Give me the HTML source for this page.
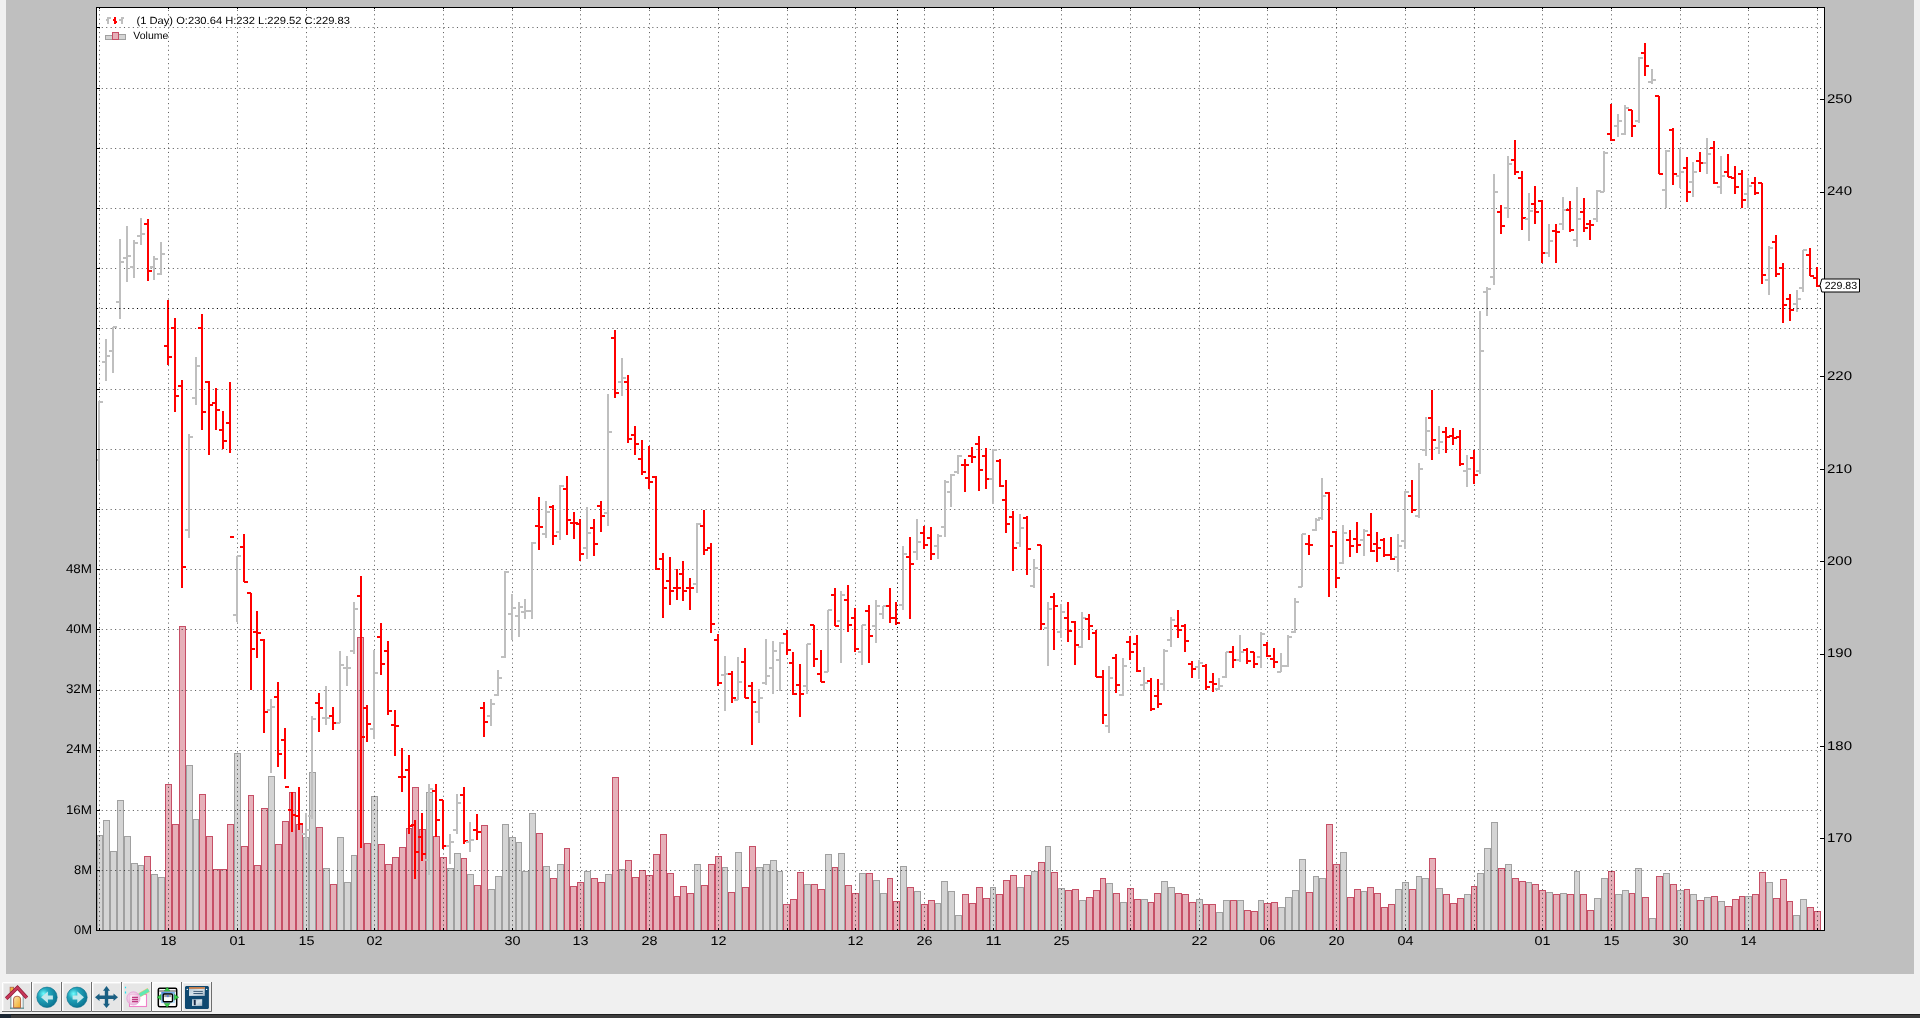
<!DOCTYPE html>
<html><head><meta charset="utf-8"><title>chart</title>
<style>
html,body{margin:0;padding:0;}
body{width:1920px;height:1018px;overflow:hidden;position:relative;background:#f0f0f0;font-family:"Liberation Sans",sans-serif;}
</style></head><body>
<svg width="1920" height="1018" viewBox="0 0 1920 1018" style="position:absolute;left:0;top:0;will-change:transform">
<rect x="6" y="0" width="1908" height="974" fill="#bfbfbf"/>
<rect x="96" y="7" width="1728" height="923" fill="#ffffff"/>
<g shape-rendering="crispEdges">
<rect x="97" y="835" width="6" height="95" fill="#d4d4d4"/>
<rect x="103" y="820" width="7" height="110" fill="#d4d4d4"/>
<rect x="110" y="851" width="7" height="79" fill="#d4d4d4"/>
<rect x="117" y="800" width="7" height="130" fill="#d4d4d4"/>
<rect x="124" y="836" width="7" height="94" fill="#d4d4d4"/>
<rect x="131" y="863" width="7" height="67" fill="#d4d4d4"/>
<rect x="138" y="865" width="6" height="65" fill="#d4d4d4"/>
<rect x="144" y="856" width="7" height="74" fill="#e6b0b9"/>
<rect x="151" y="874" width="7" height="56" fill="#d4d4d4"/>
<rect x="158" y="877" width="7" height="53" fill="#d4d4d4"/>
<rect x="165" y="784" width="7" height="146" fill="#e6b0b9"/>
<rect x="172" y="824" width="7" height="106" fill="#e6b0b9"/>
<rect x="179" y="626" width="7" height="304" fill="#e6b0b9"/>
<rect x="186" y="765" width="7" height="165" fill="#d4d4d4"/>
<rect x="193" y="819" width="6" height="111" fill="#d4d4d4"/>
<rect x="199" y="794" width="7" height="136" fill="#e6b0b9"/>
<rect x="206" y="836" width="7" height="94" fill="#e6b0b9"/>
<rect x="213" y="869" width="7" height="61" fill="#e6b0b9"/>
<rect x="220" y="869" width="7" height="61" fill="#e6b0b9"/>
<rect x="227" y="824" width="7" height="106" fill="#e6b0b9"/>
<rect x="234" y="753" width="7" height="177" fill="#d4d4d4"/>
<rect x="241" y="846" width="7" height="84" fill="#e6b0b9"/>
<rect x="248" y="795" width="6" height="135" fill="#e6b0b9"/>
<rect x="254" y="865" width="7" height="65" fill="#e6b0b9"/>
<rect x="261" y="808" width="7" height="122" fill="#e6b0b9"/>
<rect x="268" y="776" width="7" height="154" fill="#d4d4d4"/>
<rect x="275" y="844" width="7" height="86" fill="#e6b0b9"/>
<rect x="282" y="821" width="7" height="109" fill="#e6b0b9"/>
<rect x="289" y="792" width="7" height="138" fill="#e6b0b9"/>
<rect x="296" y="824" width="7" height="106" fill="#e6b0b9"/>
<rect x="303" y="837" width="6" height="93" fill="#d4d4d4"/>
<rect x="309" y="772" width="7" height="158" fill="#d4d4d4"/>
<rect x="316" y="827" width="7" height="103" fill="#e6b0b9"/>
<rect x="323" y="868" width="7" height="62" fill="#d4d4d4"/>
<rect x="330" y="884" width="7" height="46" fill="#e6b0b9"/>
<rect x="337" y="837" width="7" height="93" fill="#d4d4d4"/>
<rect x="344" y="882" width="7" height="48" fill="#d4d4d4"/>
<rect x="351" y="855" width="6" height="75" fill="#d4d4d4"/>
<rect x="357" y="637" width="7" height="293" fill="#e6b0b9"/>
<rect x="364" y="843" width="7" height="87" fill="#e6b0b9"/>
<rect x="371" y="796" width="7" height="134" fill="#d4d4d4"/>
<rect x="378" y="844" width="7" height="86" fill="#e6b0b9"/>
<rect x="385" y="864" width="7" height="66" fill="#e6b0b9"/>
<rect x="392" y="857" width="7" height="73" fill="#e6b0b9"/>
<rect x="399" y="847" width="7" height="83" fill="#e6b0b9"/>
<rect x="406" y="828" width="6" height="102" fill="#e6b0b9"/>
<rect x="412" y="787" width="7" height="143" fill="#e6b0b9"/>
<rect x="419" y="829" width="7" height="101" fill="#e6b0b9"/>
<rect x="426" y="792" width="7" height="138" fill="#d4d4d4"/>
<rect x="433" y="836" width="7" height="94" fill="#e6b0b9"/>
<rect x="440" y="857" width="7" height="73" fill="#e6b0b9"/>
<rect x="447" y="868" width="7" height="62" fill="#d4d4d4"/>
<rect x="454" y="853" width="7" height="77" fill="#d4d4d4"/>
<rect x="461" y="858" width="6" height="72" fill="#e6b0b9"/>
<rect x="467" y="874" width="7" height="56" fill="#d4d4d4"/>
<rect x="474" y="885" width="7" height="45" fill="#e6b0b9"/>
<rect x="481" y="825" width="7" height="105" fill="#e6b0b9"/>
<rect x="488" y="889" width="7" height="41" fill="#d4d4d4"/>
<rect x="495" y="876" width="7" height="54" fill="#d4d4d4"/>
<rect x="502" y="824" width="7" height="106" fill="#d4d4d4"/>
<rect x="509" y="837" width="7" height="93" fill="#d4d4d4"/>
<rect x="516" y="842" width="6" height="88" fill="#d4d4d4"/>
<rect x="522" y="871" width="7" height="59" fill="#d4d4d4"/>
<rect x="529" y="813" width="7" height="117" fill="#d4d4d4"/>
<rect x="536" y="833" width="7" height="97" fill="#e6b0b9"/>
<rect x="543" y="866" width="7" height="64" fill="#d4d4d4"/>
<rect x="550" y="878" width="7" height="52" fill="#e6b0b9"/>
<rect x="557" y="864" width="7" height="66" fill="#d4d4d4"/>
<rect x="564" y="848" width="6" height="82" fill="#e6b0b9"/>
<rect x="570" y="886" width="7" height="44" fill="#e6b0b9"/>
<rect x="577" y="882" width="7" height="48" fill="#e6b0b9"/>
<rect x="584" y="871" width="7" height="59" fill="#d4d4d4"/>
<rect x="591" y="878" width="7" height="52" fill="#e6b0b9"/>
<rect x="598" y="882" width="7" height="48" fill="#e6b0b9"/>
<rect x="605" y="874" width="7" height="56" fill="#d4d4d4"/>
<rect x="612" y="777" width="7" height="153" fill="#e6b0b9"/>
<rect x="619" y="869" width="6" height="61" fill="#d4d4d4"/>
<rect x="625" y="860" width="7" height="70" fill="#e6b0b9"/>
<rect x="632" y="877" width="7" height="53" fill="#e6b0b9"/>
<rect x="639" y="870" width="7" height="60" fill="#e6b0b9"/>
<rect x="646" y="875" width="7" height="55" fill="#e6b0b9"/>
<rect x="653" y="854" width="7" height="76" fill="#e6b0b9"/>
<rect x="660" y="834" width="7" height="96" fill="#e6b0b9"/>
<rect x="667" y="873" width="7" height="57" fill="#e6b0b9"/>
<rect x="674" y="896" width="6" height="34" fill="#e6b0b9"/>
<rect x="680" y="886" width="7" height="44" fill="#e6b0b9"/>
<rect x="687" y="893" width="7" height="37" fill="#e6b0b9"/>
<rect x="694" y="864" width="7" height="66" fill="#d4d4d4"/>
<rect x="701" y="885" width="7" height="45" fill="#e6b0b9"/>
<rect x="708" y="864" width="7" height="66" fill="#e6b0b9"/>
<rect x="715" y="856" width="7" height="74" fill="#e6b0b9"/>
<rect x="722" y="867" width="6" height="63" fill="#d4d4d4"/>
<rect x="728" y="892" width="7" height="38" fill="#e6b0b9"/>
<rect x="735" y="852" width="7" height="78" fill="#d4d4d4"/>
<rect x="742" y="887" width="7" height="43" fill="#e6b0b9"/>
<rect x="749" y="846" width="7" height="84" fill="#e6b0b9"/>
<rect x="756" y="867" width="7" height="63" fill="#d4d4d4"/>
<rect x="763" y="864" width="7" height="66" fill="#d4d4d4"/>
<rect x="770" y="860" width="7" height="70" fill="#d4d4d4"/>
<rect x="777" y="871" width="6" height="59" fill="#d4d4d4"/>
<rect x="783" y="904" width="7" height="26" fill="#e6b0b9"/>
<rect x="790" y="899" width="7" height="31" fill="#e6b0b9"/>
<rect x="797" y="872" width="7" height="58" fill="#e6b0b9"/>
<rect x="804" y="884" width="7" height="46" fill="#d4d4d4"/>
<rect x="811" y="884" width="7" height="46" fill="#e6b0b9"/>
<rect x="818" y="889" width="7" height="41" fill="#e6b0b9"/>
<rect x="825" y="854" width="7" height="76" fill="#d4d4d4"/>
<rect x="832" y="867" width="6" height="63" fill="#e6b0b9"/>
<rect x="838" y="853" width="7" height="77" fill="#d4d4d4"/>
<rect x="845" y="885" width="7" height="45" fill="#e6b0b9"/>
<rect x="852" y="893" width="7" height="37" fill="#e6b0b9"/>
<rect x="859" y="873" width="7" height="57" fill="#d4d4d4"/>
<rect x="866" y="873" width="7" height="57" fill="#e6b0b9"/>
<rect x="873" y="880" width="7" height="50" fill="#d4d4d4"/>
<rect x="880" y="893" width="7" height="37" fill="#d4d4d4"/>
<rect x="887" y="878" width="6" height="52" fill="#e6b0b9"/>
<rect x="893" y="901" width="7" height="29" fill="#e6b0b9"/>
<rect x="900" y="866" width="7" height="64" fill="#d4d4d4"/>
<rect x="907" y="887" width="7" height="43" fill="#e6b0b9"/>
<rect x="914" y="891" width="7" height="39" fill="#d4d4d4"/>
<rect x="921" y="904" width="7" height="26" fill="#e6b0b9"/>
<rect x="928" y="900" width="7" height="30" fill="#e6b0b9"/>
<rect x="935" y="903" width="6" height="27" fill="#d4d4d4"/>
<rect x="941" y="881" width="7" height="49" fill="#d4d4d4"/>
<rect x="948" y="891" width="7" height="39" fill="#d4d4d4"/>
<rect x="955" y="915" width="7" height="15" fill="#d4d4d4"/>
<rect x="962" y="894" width="7" height="36" fill="#e6b0b9"/>
<rect x="969" y="903" width="7" height="27" fill="#e6b0b9"/>
<rect x="976" y="887" width="7" height="43" fill="#e6b0b9"/>
<rect x="983" y="898" width="7" height="32" fill="#e6b0b9"/>
<rect x="990" y="887" width="6" height="43" fill="#d4d4d4"/>
<rect x="996" y="894" width="7" height="36" fill="#e6b0b9"/>
<rect x="1003" y="880" width="7" height="50" fill="#e6b0b9"/>
<rect x="1010" y="875" width="7" height="55" fill="#e6b0b9"/>
<rect x="1017" y="887" width="7" height="43" fill="#d4d4d4"/>
<rect x="1024" y="875" width="7" height="55" fill="#e6b0b9"/>
<rect x="1031" y="871" width="7" height="59" fill="#d4d4d4"/>
<rect x="1038" y="862" width="7" height="68" fill="#e6b0b9"/>
<rect x="1045" y="846" width="6" height="84" fill="#d4d4d4"/>
<rect x="1051" y="872" width="7" height="58" fill="#e6b0b9"/>
<rect x="1058" y="888" width="7" height="42" fill="#d4d4d4"/>
<rect x="1065" y="890" width="7" height="40" fill="#e6b0b9"/>
<rect x="1072" y="889" width="7" height="41" fill="#e6b0b9"/>
<rect x="1079" y="900" width="7" height="30" fill="#d4d4d4"/>
<rect x="1086" y="897" width="7" height="33" fill="#e6b0b9"/>
<rect x="1093" y="890" width="7" height="40" fill="#e6b0b9"/>
<rect x="1100" y="878" width="6" height="52" fill="#e6b0b9"/>
<rect x="1106" y="883" width="7" height="47" fill="#d4d4d4"/>
<rect x="1113" y="893" width="7" height="37" fill="#e6b0b9"/>
<rect x="1120" y="902" width="7" height="28" fill="#d4d4d4"/>
<rect x="1127" y="888" width="7" height="42" fill="#e6b0b9"/>
<rect x="1134" y="899" width="7" height="31" fill="#e6b0b9"/>
<rect x="1141" y="899" width="7" height="31" fill="#d4d4d4"/>
<rect x="1148" y="902" width="6" height="28" fill="#e6b0b9"/>
<rect x="1154" y="893" width="7" height="37" fill="#e6b0b9"/>
<rect x="1161" y="881" width="7" height="49" fill="#d4d4d4"/>
<rect x="1168" y="887" width="7" height="43" fill="#d4d4d4"/>
<rect x="1175" y="893" width="7" height="37" fill="#e6b0b9"/>
<rect x="1182" y="894" width="7" height="36" fill="#e6b0b9"/>
<rect x="1189" y="902" width="7" height="28" fill="#e6b0b9"/>
<rect x="1196" y="899" width="7" height="31" fill="#d4d4d4"/>
<rect x="1203" y="904" width="6" height="26" fill="#e6b0b9"/>
<rect x="1209" y="904" width="7" height="26" fill="#e6b0b9"/>
<rect x="1216" y="912" width="7" height="18" fill="#d4d4d4"/>
<rect x="1223" y="900" width="7" height="30" fill="#d4d4d4"/>
<rect x="1230" y="900" width="7" height="30" fill="#e6b0b9"/>
<rect x="1237" y="900" width="7" height="30" fill="#d4d4d4"/>
<rect x="1244" y="910" width="7" height="20" fill="#e6b0b9"/>
<rect x="1251" y="911" width="7" height="19" fill="#e6b0b9"/>
<rect x="1258" y="900" width="6" height="30" fill="#d4d4d4"/>
<rect x="1264" y="903" width="7" height="27" fill="#e6b0b9"/>
<rect x="1271" y="902" width="7" height="28" fill="#e6b0b9"/>
<rect x="1278" y="907" width="7" height="23" fill="#d4d4d4"/>
<rect x="1285" y="897" width="7" height="33" fill="#d4d4d4"/>
<rect x="1292" y="890" width="7" height="40" fill="#d4d4d4"/>
<rect x="1299" y="859" width="7" height="71" fill="#d4d4d4"/>
<rect x="1306" y="892" width="7" height="38" fill="#e6b0b9"/>
<rect x="1313" y="876" width="6" height="54" fill="#d4d4d4"/>
<rect x="1319" y="878" width="7" height="52" fill="#d4d4d4"/>
<rect x="1326" y="824" width="7" height="106" fill="#e6b0b9"/>
<rect x="1333" y="864" width="7" height="66" fill="#e6b0b9"/>
<rect x="1340" y="852" width="7" height="78" fill="#d4d4d4"/>
<rect x="1347" y="897" width="7" height="33" fill="#e6b0b9"/>
<rect x="1354" y="889" width="7" height="41" fill="#e6b0b9"/>
<rect x="1361" y="891" width="6" height="39" fill="#d4d4d4"/>
<rect x="1367" y="887" width="7" height="43" fill="#e6b0b9"/>
<rect x="1374" y="893" width="7" height="37" fill="#e6b0b9"/>
<rect x="1381" y="907" width="7" height="23" fill="#e6b0b9"/>
<rect x="1388" y="904" width="7" height="26" fill="#e6b0b9"/>
<rect x="1395" y="889" width="7" height="41" fill="#d4d4d4"/>
<rect x="1402" y="882" width="7" height="48" fill="#d4d4d4"/>
<rect x="1409" y="889" width="7" height="41" fill="#e6b0b9"/>
<rect x="1416" y="876" width="6" height="54" fill="#d4d4d4"/>
<rect x="1422" y="878" width="7" height="52" fill="#d4d4d4"/>
<rect x="1429" y="858" width="7" height="72" fill="#e6b0b9"/>
<rect x="1436" y="888" width="7" height="42" fill="#d4d4d4"/>
<rect x="1443" y="894" width="7" height="36" fill="#e6b0b9"/>
<rect x="1450" y="903" width="7" height="27" fill="#e6b0b9"/>
<rect x="1457" y="898" width="7" height="32" fill="#e6b0b9"/>
<rect x="1464" y="894" width="7" height="36" fill="#d4d4d4"/>
<rect x="1471" y="886" width="6" height="44" fill="#e6b0b9"/>
<rect x="1477" y="873" width="7" height="57" fill="#d4d4d4"/>
<rect x="1484" y="848" width="7" height="82" fill="#d4d4d4"/>
<rect x="1491" y="822" width="7" height="108" fill="#d4d4d4"/>
<rect x="1498" y="868" width="7" height="62" fill="#e6b0b9"/>
<rect x="1505" y="864" width="7" height="66" fill="#d4d4d4"/>
<rect x="1512" y="878" width="7" height="52" fill="#e6b0b9"/>
<rect x="1519" y="881" width="7" height="49" fill="#e6b0b9"/>
<rect x="1526" y="882" width="6" height="48" fill="#d4d4d4"/>
<rect x="1532" y="884" width="7" height="46" fill="#e6b0b9"/>
<rect x="1539" y="890" width="7" height="40" fill="#e6b0b9"/>
<rect x="1546" y="892" width="7" height="38" fill="#d4d4d4"/>
<rect x="1553" y="894" width="7" height="36" fill="#e6b0b9"/>
<rect x="1560" y="893" width="7" height="37" fill="#d4d4d4"/>
<rect x="1567" y="894" width="7" height="36" fill="#e6b0b9"/>
<rect x="1574" y="871" width="6" height="59" fill="#d4d4d4"/>
<rect x="1580" y="894" width="7" height="36" fill="#e6b0b9"/>
<rect x="1587" y="910" width="7" height="20" fill="#e6b0b9"/>
<rect x="1594" y="898" width="7" height="32" fill="#d4d4d4"/>
<rect x="1601" y="878" width="7" height="52" fill="#d4d4d4"/>
<rect x="1608" y="871" width="7" height="59" fill="#e6b0b9"/>
<rect x="1615" y="894" width="7" height="36" fill="#d4d4d4"/>
<rect x="1622" y="890" width="7" height="40" fill="#d4d4d4"/>
<rect x="1629" y="893" width="6" height="37" fill="#e6b0b9"/>
<rect x="1635" y="868" width="7" height="62" fill="#d4d4d4"/>
<rect x="1642" y="897" width="7" height="33" fill="#e6b0b9"/>
<rect x="1649" y="918" width="7" height="12" fill="#d4d4d4"/>
<rect x="1656" y="876" width="7" height="54" fill="#e6b0b9"/>
<rect x="1663" y="873" width="7" height="57" fill="#d4d4d4"/>
<rect x="1670" y="884" width="7" height="46" fill="#e6b0b9"/>
<rect x="1677" y="890" width="7" height="40" fill="#d4d4d4"/>
<rect x="1684" y="889" width="6" height="41" fill="#e6b0b9"/>
<rect x="1690" y="894" width="7" height="36" fill="#d4d4d4"/>
<rect x="1697" y="900" width="7" height="30" fill="#e6b0b9"/>
<rect x="1704" y="897" width="7" height="33" fill="#d4d4d4"/>
<rect x="1711" y="896" width="7" height="34" fill="#e6b0b9"/>
<rect x="1718" y="901" width="7" height="29" fill="#d4d4d4"/>
<rect x="1725" y="906" width="7" height="24" fill="#e6b0b9"/>
<rect x="1732" y="899" width="7" height="31" fill="#e6b0b9"/>
<rect x="1739" y="896" width="6" height="34" fill="#e6b0b9"/>
<rect x="1745" y="896" width="7" height="34" fill="#d4d4d4"/>
<rect x="1752" y="894" width="7" height="36" fill="#e6b0b9"/>
<rect x="1759" y="872" width="7" height="58" fill="#e6b0b9"/>
<rect x="1766" y="882" width="7" height="48" fill="#d4d4d4"/>
<rect x="1773" y="898" width="7" height="32" fill="#e6b0b9"/>
<rect x="1780" y="879" width="7" height="51" fill="#e6b0b9"/>
<rect x="1787" y="901" width="6" height="29" fill="#e6b0b9"/>
<rect x="1793" y="915" width="7" height="15" fill="#d4d4d4"/>
<rect x="1800" y="899" width="7" height="31" fill="#d4d4d4"/>
<rect x="1807" y="907" width="7" height="23" fill="#e6b0b9"/>
<rect x="1814" y="911" width="7" height="19" fill="#e6b0b9"/>
<path d="M97.5 930 V835.5 H102.5 V930" fill="none" stroke="#a0a0a0" stroke-width="1"/>
<path d="M103.5 930 V820.5 H109.5 V930" fill="none" stroke="#a0a0a0" stroke-width="1"/>
<path d="M110.5 930 V851.5 H116.5 V930" fill="none" stroke="#a0a0a0" stroke-width="1"/>
<path d="M117.5 930 V800.5 H123.5 V930" fill="none" stroke="#a0a0a0" stroke-width="1"/>
<path d="M124.5 930 V836.5 H130.5 V930" fill="none" stroke="#a0a0a0" stroke-width="1"/>
<path d="M131.5 930 V863.5 H137.5 V930" fill="none" stroke="#a0a0a0" stroke-width="1"/>
<path d="M138.5 930 V865.5 H143.5 V930" fill="none" stroke="#a0a0a0" stroke-width="1"/>
<path d="M144.5 930 V856.5 H150.5 V930" fill="none" stroke="#c64f66" stroke-width="1"/>
<path d="M151.5 930 V874.5 H157.5 V930" fill="none" stroke="#a0a0a0" stroke-width="1"/>
<path d="M158.5 930 V877.5 H164.5 V930" fill="none" stroke="#a0a0a0" stroke-width="1"/>
<path d="M165.5 930 V784.5 H171.5 V930" fill="none" stroke="#c64f66" stroke-width="1"/>
<path d="M172.5 930 V824.5 H178.5 V930" fill="none" stroke="#c64f66" stroke-width="1"/>
<path d="M179.5 930 V626.5 H185.5 V930" fill="none" stroke="#c64f66" stroke-width="1"/>
<path d="M186.5 930 V765.5 H192.5 V930" fill="none" stroke="#a0a0a0" stroke-width="1"/>
<path d="M193.5 930 V819.5 H198.5 V930" fill="none" stroke="#a0a0a0" stroke-width="1"/>
<path d="M199.5 930 V794.5 H205.5 V930" fill="none" stroke="#c64f66" stroke-width="1"/>
<path d="M206.5 930 V836.5 H212.5 V930" fill="none" stroke="#c64f66" stroke-width="1"/>
<path d="M213.5 930 V869.5 H219.5 V930" fill="none" stroke="#c64f66" stroke-width="1"/>
<path d="M220.5 930 V869.5 H226.5 V930" fill="none" stroke="#c64f66" stroke-width="1"/>
<path d="M227.5 930 V824.5 H233.5 V930" fill="none" stroke="#c64f66" stroke-width="1"/>
<path d="M234.5 930 V753.5 H240.5 V930" fill="none" stroke="#a0a0a0" stroke-width="1"/>
<path d="M241.5 930 V846.5 H247.5 V930" fill="none" stroke="#c64f66" stroke-width="1"/>
<path d="M248.5 930 V795.5 H253.5 V930" fill="none" stroke="#c64f66" stroke-width="1"/>
<path d="M254.5 930 V865.5 H260.5 V930" fill="none" stroke="#c64f66" stroke-width="1"/>
<path d="M261.5 930 V808.5 H267.5 V930" fill="none" stroke="#c64f66" stroke-width="1"/>
<path d="M268.5 930 V776.5 H274.5 V930" fill="none" stroke="#a0a0a0" stroke-width="1"/>
<path d="M275.5 930 V844.5 H281.5 V930" fill="none" stroke="#c64f66" stroke-width="1"/>
<path d="M282.5 930 V821.5 H288.5 V930" fill="none" stroke="#c64f66" stroke-width="1"/>
<path d="M289.5 930 V792.5 H295.5 V930" fill="none" stroke="#c64f66" stroke-width="1"/>
<path d="M296.5 930 V824.5 H302.5 V930" fill="none" stroke="#c64f66" stroke-width="1"/>
<path d="M303.5 930 V837.5 H308.5 V930" fill="none" stroke="#a0a0a0" stroke-width="1"/>
<path d="M309.5 930 V772.5 H315.5 V930" fill="none" stroke="#a0a0a0" stroke-width="1"/>
<path d="M316.5 930 V827.5 H322.5 V930" fill="none" stroke="#c64f66" stroke-width="1"/>
<path d="M323.5 930 V868.5 H329.5 V930" fill="none" stroke="#a0a0a0" stroke-width="1"/>
<path d="M330.5 930 V884.5 H336.5 V930" fill="none" stroke="#c64f66" stroke-width="1"/>
<path d="M337.5 930 V837.5 H343.5 V930" fill="none" stroke="#a0a0a0" stroke-width="1"/>
<path d="M344.5 930 V882.5 H350.5 V930" fill="none" stroke="#a0a0a0" stroke-width="1"/>
<path d="M351.5 930 V855.5 H356.5 V930" fill="none" stroke="#a0a0a0" stroke-width="1"/>
<path d="M357.5 930 V637.5 H363.5 V930" fill="none" stroke="#c64f66" stroke-width="1"/>
<path d="M364.5 930 V843.5 H370.5 V930" fill="none" stroke="#c64f66" stroke-width="1"/>
<path d="M371.5 930 V796.5 H377.5 V930" fill="none" stroke="#a0a0a0" stroke-width="1"/>
<path d="M378.5 930 V844.5 H384.5 V930" fill="none" stroke="#c64f66" stroke-width="1"/>
<path d="M385.5 930 V864.5 H391.5 V930" fill="none" stroke="#c64f66" stroke-width="1"/>
<path d="M392.5 930 V857.5 H398.5 V930" fill="none" stroke="#c64f66" stroke-width="1"/>
<path d="M399.5 930 V847.5 H405.5 V930" fill="none" stroke="#c64f66" stroke-width="1"/>
<path d="M406.5 930 V828.5 H411.5 V930" fill="none" stroke="#c64f66" stroke-width="1"/>
<path d="M412.5 930 V787.5 H418.5 V930" fill="none" stroke="#c64f66" stroke-width="1"/>
<path d="M419.5 930 V829.5 H425.5 V930" fill="none" stroke="#c64f66" stroke-width="1"/>
<path d="M426.5 930 V792.5 H432.5 V930" fill="none" stroke="#a0a0a0" stroke-width="1"/>
<path d="M433.5 930 V836.5 H439.5 V930" fill="none" stroke="#c64f66" stroke-width="1"/>
<path d="M440.5 930 V857.5 H446.5 V930" fill="none" stroke="#c64f66" stroke-width="1"/>
<path d="M447.5 930 V868.5 H453.5 V930" fill="none" stroke="#a0a0a0" stroke-width="1"/>
<path d="M454.5 930 V853.5 H460.5 V930" fill="none" stroke="#a0a0a0" stroke-width="1"/>
<path d="M461.5 930 V858.5 H466.5 V930" fill="none" stroke="#c64f66" stroke-width="1"/>
<path d="M467.5 930 V874.5 H473.5 V930" fill="none" stroke="#a0a0a0" stroke-width="1"/>
<path d="M474.5 930 V885.5 H480.5 V930" fill="none" stroke="#c64f66" stroke-width="1"/>
<path d="M481.5 930 V825.5 H487.5 V930" fill="none" stroke="#c64f66" stroke-width="1"/>
<path d="M488.5 930 V889.5 H494.5 V930" fill="none" stroke="#a0a0a0" stroke-width="1"/>
<path d="M495.5 930 V876.5 H501.5 V930" fill="none" stroke="#a0a0a0" stroke-width="1"/>
<path d="M502.5 930 V824.5 H508.5 V930" fill="none" stroke="#a0a0a0" stroke-width="1"/>
<path d="M509.5 930 V837.5 H515.5 V930" fill="none" stroke="#a0a0a0" stroke-width="1"/>
<path d="M516.5 930 V842.5 H521.5 V930" fill="none" stroke="#a0a0a0" stroke-width="1"/>
<path d="M522.5 930 V871.5 H528.5 V930" fill="none" stroke="#a0a0a0" stroke-width="1"/>
<path d="M529.5 930 V813.5 H535.5 V930" fill="none" stroke="#a0a0a0" stroke-width="1"/>
<path d="M536.5 930 V833.5 H542.5 V930" fill="none" stroke="#c64f66" stroke-width="1"/>
<path d="M543.5 930 V866.5 H549.5 V930" fill="none" stroke="#a0a0a0" stroke-width="1"/>
<path d="M550.5 930 V878.5 H556.5 V930" fill="none" stroke="#c64f66" stroke-width="1"/>
<path d="M557.5 930 V864.5 H563.5 V930" fill="none" stroke="#a0a0a0" stroke-width="1"/>
<path d="M564.5 930 V848.5 H569.5 V930" fill="none" stroke="#c64f66" stroke-width="1"/>
<path d="M570.5 930 V886.5 H576.5 V930" fill="none" stroke="#c64f66" stroke-width="1"/>
<path d="M577.5 930 V882.5 H583.5 V930" fill="none" stroke="#c64f66" stroke-width="1"/>
<path d="M584.5 930 V871.5 H590.5 V930" fill="none" stroke="#a0a0a0" stroke-width="1"/>
<path d="M591.5 930 V878.5 H597.5 V930" fill="none" stroke="#c64f66" stroke-width="1"/>
<path d="M598.5 930 V882.5 H604.5 V930" fill="none" stroke="#c64f66" stroke-width="1"/>
<path d="M605.5 930 V874.5 H611.5 V930" fill="none" stroke="#a0a0a0" stroke-width="1"/>
<path d="M612.5 930 V777.5 H618.5 V930" fill="none" stroke="#c64f66" stroke-width="1"/>
<path d="M619.5 930 V869.5 H624.5 V930" fill="none" stroke="#a0a0a0" stroke-width="1"/>
<path d="M625.5 930 V860.5 H631.5 V930" fill="none" stroke="#c64f66" stroke-width="1"/>
<path d="M632.5 930 V877.5 H638.5 V930" fill="none" stroke="#c64f66" stroke-width="1"/>
<path d="M639.5 930 V870.5 H645.5 V930" fill="none" stroke="#c64f66" stroke-width="1"/>
<path d="M646.5 930 V875.5 H652.5 V930" fill="none" stroke="#c64f66" stroke-width="1"/>
<path d="M653.5 930 V854.5 H659.5 V930" fill="none" stroke="#c64f66" stroke-width="1"/>
<path d="M660.5 930 V834.5 H666.5 V930" fill="none" stroke="#c64f66" stroke-width="1"/>
<path d="M667.5 930 V873.5 H673.5 V930" fill="none" stroke="#c64f66" stroke-width="1"/>
<path d="M674.5 930 V896.5 H679.5 V930" fill="none" stroke="#c64f66" stroke-width="1"/>
<path d="M680.5 930 V886.5 H686.5 V930" fill="none" stroke="#c64f66" stroke-width="1"/>
<path d="M687.5 930 V893.5 H693.5 V930" fill="none" stroke="#c64f66" stroke-width="1"/>
<path d="M694.5 930 V864.5 H700.5 V930" fill="none" stroke="#a0a0a0" stroke-width="1"/>
<path d="M701.5 930 V885.5 H707.5 V930" fill="none" stroke="#c64f66" stroke-width="1"/>
<path d="M708.5 930 V864.5 H714.5 V930" fill="none" stroke="#c64f66" stroke-width="1"/>
<path d="M715.5 930 V856.5 H721.5 V930" fill="none" stroke="#c64f66" stroke-width="1"/>
<path d="M722.5 930 V867.5 H727.5 V930" fill="none" stroke="#a0a0a0" stroke-width="1"/>
<path d="M728.5 930 V892.5 H734.5 V930" fill="none" stroke="#c64f66" stroke-width="1"/>
<path d="M735.5 930 V852.5 H741.5 V930" fill="none" stroke="#a0a0a0" stroke-width="1"/>
<path d="M742.5 930 V887.5 H748.5 V930" fill="none" stroke="#c64f66" stroke-width="1"/>
<path d="M749.5 930 V846.5 H755.5 V930" fill="none" stroke="#c64f66" stroke-width="1"/>
<path d="M756.5 930 V867.5 H762.5 V930" fill="none" stroke="#a0a0a0" stroke-width="1"/>
<path d="M763.5 930 V864.5 H769.5 V930" fill="none" stroke="#a0a0a0" stroke-width="1"/>
<path d="M770.5 930 V860.5 H776.5 V930" fill="none" stroke="#a0a0a0" stroke-width="1"/>
<path d="M777.5 930 V871.5 H782.5 V930" fill="none" stroke="#a0a0a0" stroke-width="1"/>
<path d="M783.5 930 V904.5 H789.5 V930" fill="none" stroke="#c64f66" stroke-width="1"/>
<path d="M790.5 930 V899.5 H796.5 V930" fill="none" stroke="#c64f66" stroke-width="1"/>
<path d="M797.5 930 V872.5 H803.5 V930" fill="none" stroke="#c64f66" stroke-width="1"/>
<path d="M804.5 930 V884.5 H810.5 V930" fill="none" stroke="#a0a0a0" stroke-width="1"/>
<path d="M811.5 930 V884.5 H817.5 V930" fill="none" stroke="#c64f66" stroke-width="1"/>
<path d="M818.5 930 V889.5 H824.5 V930" fill="none" stroke="#c64f66" stroke-width="1"/>
<path d="M825.5 930 V854.5 H831.5 V930" fill="none" stroke="#a0a0a0" stroke-width="1"/>
<path d="M832.5 930 V867.5 H837.5 V930" fill="none" stroke="#c64f66" stroke-width="1"/>
<path d="M838.5 930 V853.5 H844.5 V930" fill="none" stroke="#a0a0a0" stroke-width="1"/>
<path d="M845.5 930 V885.5 H851.5 V930" fill="none" stroke="#c64f66" stroke-width="1"/>
<path d="M852.5 930 V893.5 H858.5 V930" fill="none" stroke="#c64f66" stroke-width="1"/>
<path d="M859.5 930 V873.5 H865.5 V930" fill="none" stroke="#a0a0a0" stroke-width="1"/>
<path d="M866.5 930 V873.5 H872.5 V930" fill="none" stroke="#c64f66" stroke-width="1"/>
<path d="M873.5 930 V880.5 H879.5 V930" fill="none" stroke="#a0a0a0" stroke-width="1"/>
<path d="M880.5 930 V893.5 H886.5 V930" fill="none" stroke="#a0a0a0" stroke-width="1"/>
<path d="M887.5 930 V878.5 H892.5 V930" fill="none" stroke="#c64f66" stroke-width="1"/>
<path d="M893.5 930 V901.5 H899.5 V930" fill="none" stroke="#c64f66" stroke-width="1"/>
<path d="M900.5 930 V866.5 H906.5 V930" fill="none" stroke="#a0a0a0" stroke-width="1"/>
<path d="M907.5 930 V887.5 H913.5 V930" fill="none" stroke="#c64f66" stroke-width="1"/>
<path d="M914.5 930 V891.5 H920.5 V930" fill="none" stroke="#a0a0a0" stroke-width="1"/>
<path d="M921.5 930 V904.5 H927.5 V930" fill="none" stroke="#c64f66" stroke-width="1"/>
<path d="M928.5 930 V900.5 H934.5 V930" fill="none" stroke="#c64f66" stroke-width="1"/>
<path d="M935.5 930 V903.5 H940.5 V930" fill="none" stroke="#a0a0a0" stroke-width="1"/>
<path d="M941.5 930 V881.5 H947.5 V930" fill="none" stroke="#a0a0a0" stroke-width="1"/>
<path d="M948.5 930 V891.5 H954.5 V930" fill="none" stroke="#a0a0a0" stroke-width="1"/>
<path d="M955.5 930 V915.5 H961.5 V930" fill="none" stroke="#a0a0a0" stroke-width="1"/>
<path d="M962.5 930 V894.5 H968.5 V930" fill="none" stroke="#c64f66" stroke-width="1"/>
<path d="M969.5 930 V903.5 H975.5 V930" fill="none" stroke="#c64f66" stroke-width="1"/>
<path d="M976.5 930 V887.5 H982.5 V930" fill="none" stroke="#c64f66" stroke-width="1"/>
<path d="M983.5 930 V898.5 H989.5 V930" fill="none" stroke="#c64f66" stroke-width="1"/>
<path d="M990.5 930 V887.5 H995.5 V930" fill="none" stroke="#a0a0a0" stroke-width="1"/>
<path d="M996.5 930 V894.5 H1002.5 V930" fill="none" stroke="#c64f66" stroke-width="1"/>
<path d="M1003.5 930 V880.5 H1009.5 V930" fill="none" stroke="#c64f66" stroke-width="1"/>
<path d="M1010.5 930 V875.5 H1016.5 V930" fill="none" stroke="#c64f66" stroke-width="1"/>
<path d="M1017.5 930 V887.5 H1023.5 V930" fill="none" stroke="#a0a0a0" stroke-width="1"/>
<path d="M1024.5 930 V875.5 H1030.5 V930" fill="none" stroke="#c64f66" stroke-width="1"/>
<path d="M1031.5 930 V871.5 H1037.5 V930" fill="none" stroke="#a0a0a0" stroke-width="1"/>
<path d="M1038.5 930 V862.5 H1044.5 V930" fill="none" stroke="#c64f66" stroke-width="1"/>
<path d="M1045.5 930 V846.5 H1050.5 V930" fill="none" stroke="#a0a0a0" stroke-width="1"/>
<path d="M1051.5 930 V872.5 H1057.5 V930" fill="none" stroke="#c64f66" stroke-width="1"/>
<path d="M1058.5 930 V888.5 H1064.5 V930" fill="none" stroke="#a0a0a0" stroke-width="1"/>
<path d="M1065.5 930 V890.5 H1071.5 V930" fill="none" stroke="#c64f66" stroke-width="1"/>
<path d="M1072.5 930 V889.5 H1078.5 V930" fill="none" stroke="#c64f66" stroke-width="1"/>
<path d="M1079.5 930 V900.5 H1085.5 V930" fill="none" stroke="#a0a0a0" stroke-width="1"/>
<path d="M1086.5 930 V897.5 H1092.5 V930" fill="none" stroke="#c64f66" stroke-width="1"/>
<path d="M1093.5 930 V890.5 H1099.5 V930" fill="none" stroke="#c64f66" stroke-width="1"/>
<path d="M1100.5 930 V878.5 H1105.5 V930" fill="none" stroke="#c64f66" stroke-width="1"/>
<path d="M1106.5 930 V883.5 H1112.5 V930" fill="none" stroke="#a0a0a0" stroke-width="1"/>
<path d="M1113.5 930 V893.5 H1119.5 V930" fill="none" stroke="#c64f66" stroke-width="1"/>
<path d="M1120.5 930 V902.5 H1126.5 V930" fill="none" stroke="#a0a0a0" stroke-width="1"/>
<path d="M1127.5 930 V888.5 H1133.5 V930" fill="none" stroke="#c64f66" stroke-width="1"/>
<path d="M1134.5 930 V899.5 H1140.5 V930" fill="none" stroke="#c64f66" stroke-width="1"/>
<path d="M1141.5 930 V899.5 H1147.5 V930" fill="none" stroke="#a0a0a0" stroke-width="1"/>
<path d="M1148.5 930 V902.5 H1153.5 V930" fill="none" stroke="#c64f66" stroke-width="1"/>
<path d="M1154.5 930 V893.5 H1160.5 V930" fill="none" stroke="#c64f66" stroke-width="1"/>
<path d="M1161.5 930 V881.5 H1167.5 V930" fill="none" stroke="#a0a0a0" stroke-width="1"/>
<path d="M1168.5 930 V887.5 H1174.5 V930" fill="none" stroke="#a0a0a0" stroke-width="1"/>
<path d="M1175.5 930 V893.5 H1181.5 V930" fill="none" stroke="#c64f66" stroke-width="1"/>
<path d="M1182.5 930 V894.5 H1188.5 V930" fill="none" stroke="#c64f66" stroke-width="1"/>
<path d="M1189.5 930 V902.5 H1195.5 V930" fill="none" stroke="#c64f66" stroke-width="1"/>
<path d="M1196.5 930 V899.5 H1202.5 V930" fill="none" stroke="#a0a0a0" stroke-width="1"/>
<path d="M1203.5 930 V904.5 H1208.5 V930" fill="none" stroke="#c64f66" stroke-width="1"/>
<path d="M1209.5 930 V904.5 H1215.5 V930" fill="none" stroke="#c64f66" stroke-width="1"/>
<path d="M1216.5 930 V912.5 H1222.5 V930" fill="none" stroke="#a0a0a0" stroke-width="1"/>
<path d="M1223.5 930 V900.5 H1229.5 V930" fill="none" stroke="#a0a0a0" stroke-width="1"/>
<path d="M1230.5 930 V900.5 H1236.5 V930" fill="none" stroke="#c64f66" stroke-width="1"/>
<path d="M1237.5 930 V900.5 H1243.5 V930" fill="none" stroke="#a0a0a0" stroke-width="1"/>
<path d="M1244.5 930 V910.5 H1250.5 V930" fill="none" stroke="#c64f66" stroke-width="1"/>
<path d="M1251.5 930 V911.5 H1257.5 V930" fill="none" stroke="#c64f66" stroke-width="1"/>
<path d="M1258.5 930 V900.5 H1263.5 V930" fill="none" stroke="#a0a0a0" stroke-width="1"/>
<path d="M1264.5 930 V903.5 H1270.5 V930" fill="none" stroke="#c64f66" stroke-width="1"/>
<path d="M1271.5 930 V902.5 H1277.5 V930" fill="none" stroke="#c64f66" stroke-width="1"/>
<path d="M1278.5 930 V907.5 H1284.5 V930" fill="none" stroke="#a0a0a0" stroke-width="1"/>
<path d="M1285.5 930 V897.5 H1291.5 V930" fill="none" stroke="#a0a0a0" stroke-width="1"/>
<path d="M1292.5 930 V890.5 H1298.5 V930" fill="none" stroke="#a0a0a0" stroke-width="1"/>
<path d="M1299.5 930 V859.5 H1305.5 V930" fill="none" stroke="#a0a0a0" stroke-width="1"/>
<path d="M1306.5 930 V892.5 H1312.5 V930" fill="none" stroke="#c64f66" stroke-width="1"/>
<path d="M1313.5 930 V876.5 H1318.5 V930" fill="none" stroke="#a0a0a0" stroke-width="1"/>
<path d="M1319.5 930 V878.5 H1325.5 V930" fill="none" stroke="#a0a0a0" stroke-width="1"/>
<path d="M1326.5 930 V824.5 H1332.5 V930" fill="none" stroke="#c64f66" stroke-width="1"/>
<path d="M1333.5 930 V864.5 H1339.5 V930" fill="none" stroke="#c64f66" stroke-width="1"/>
<path d="M1340.5 930 V852.5 H1346.5 V930" fill="none" stroke="#a0a0a0" stroke-width="1"/>
<path d="M1347.5 930 V897.5 H1353.5 V930" fill="none" stroke="#c64f66" stroke-width="1"/>
<path d="M1354.5 930 V889.5 H1360.5 V930" fill="none" stroke="#c64f66" stroke-width="1"/>
<path d="M1361.5 930 V891.5 H1366.5 V930" fill="none" stroke="#a0a0a0" stroke-width="1"/>
<path d="M1367.5 930 V887.5 H1373.5 V930" fill="none" stroke="#c64f66" stroke-width="1"/>
<path d="M1374.5 930 V893.5 H1380.5 V930" fill="none" stroke="#c64f66" stroke-width="1"/>
<path d="M1381.5 930 V907.5 H1387.5 V930" fill="none" stroke="#c64f66" stroke-width="1"/>
<path d="M1388.5 930 V904.5 H1394.5 V930" fill="none" stroke="#c64f66" stroke-width="1"/>
<path d="M1395.5 930 V889.5 H1401.5 V930" fill="none" stroke="#a0a0a0" stroke-width="1"/>
<path d="M1402.5 930 V882.5 H1408.5 V930" fill="none" stroke="#a0a0a0" stroke-width="1"/>
<path d="M1409.5 930 V889.5 H1415.5 V930" fill="none" stroke="#c64f66" stroke-width="1"/>
<path d="M1416.5 930 V876.5 H1421.5 V930" fill="none" stroke="#a0a0a0" stroke-width="1"/>
<path d="M1422.5 930 V878.5 H1428.5 V930" fill="none" stroke="#a0a0a0" stroke-width="1"/>
<path d="M1429.5 930 V858.5 H1435.5 V930" fill="none" stroke="#c64f66" stroke-width="1"/>
<path d="M1436.5 930 V888.5 H1442.5 V930" fill="none" stroke="#a0a0a0" stroke-width="1"/>
<path d="M1443.5 930 V894.5 H1449.5 V930" fill="none" stroke="#c64f66" stroke-width="1"/>
<path d="M1450.5 930 V903.5 H1456.5 V930" fill="none" stroke="#c64f66" stroke-width="1"/>
<path d="M1457.5 930 V898.5 H1463.5 V930" fill="none" stroke="#c64f66" stroke-width="1"/>
<path d="M1464.5 930 V894.5 H1470.5 V930" fill="none" stroke="#a0a0a0" stroke-width="1"/>
<path d="M1471.5 930 V886.5 H1476.5 V930" fill="none" stroke="#c64f66" stroke-width="1"/>
<path d="M1477.5 930 V873.5 H1483.5 V930" fill="none" stroke="#a0a0a0" stroke-width="1"/>
<path d="M1484.5 930 V848.5 H1490.5 V930" fill="none" stroke="#a0a0a0" stroke-width="1"/>
<path d="M1491.5 930 V822.5 H1497.5 V930" fill="none" stroke="#a0a0a0" stroke-width="1"/>
<path d="M1498.5 930 V868.5 H1504.5 V930" fill="none" stroke="#c64f66" stroke-width="1"/>
<path d="M1505.5 930 V864.5 H1511.5 V930" fill="none" stroke="#a0a0a0" stroke-width="1"/>
<path d="M1512.5 930 V878.5 H1518.5 V930" fill="none" stroke="#c64f66" stroke-width="1"/>
<path d="M1519.5 930 V881.5 H1525.5 V930" fill="none" stroke="#c64f66" stroke-width="1"/>
<path d="M1526.5 930 V882.5 H1531.5 V930" fill="none" stroke="#a0a0a0" stroke-width="1"/>
<path d="M1532.5 930 V884.5 H1538.5 V930" fill="none" stroke="#c64f66" stroke-width="1"/>
<path d="M1539.5 930 V890.5 H1545.5 V930" fill="none" stroke="#c64f66" stroke-width="1"/>
<path d="M1546.5 930 V892.5 H1552.5 V930" fill="none" stroke="#a0a0a0" stroke-width="1"/>
<path d="M1553.5 930 V894.5 H1559.5 V930" fill="none" stroke="#c64f66" stroke-width="1"/>
<path d="M1560.5 930 V893.5 H1566.5 V930" fill="none" stroke="#a0a0a0" stroke-width="1"/>
<path d="M1567.5 930 V894.5 H1573.5 V930" fill="none" stroke="#c64f66" stroke-width="1"/>
<path d="M1574.5 930 V871.5 H1579.5 V930" fill="none" stroke="#a0a0a0" stroke-width="1"/>
<path d="M1580.5 930 V894.5 H1586.5 V930" fill="none" stroke="#c64f66" stroke-width="1"/>
<path d="M1587.5 930 V910.5 H1593.5 V930" fill="none" stroke="#c64f66" stroke-width="1"/>
<path d="M1594.5 930 V898.5 H1600.5 V930" fill="none" stroke="#a0a0a0" stroke-width="1"/>
<path d="M1601.5 930 V878.5 H1607.5 V930" fill="none" stroke="#a0a0a0" stroke-width="1"/>
<path d="M1608.5 930 V871.5 H1614.5 V930" fill="none" stroke="#c64f66" stroke-width="1"/>
<path d="M1615.5 930 V894.5 H1621.5 V930" fill="none" stroke="#a0a0a0" stroke-width="1"/>
<path d="M1622.5 930 V890.5 H1628.5 V930" fill="none" stroke="#a0a0a0" stroke-width="1"/>
<path d="M1629.5 930 V893.5 H1634.5 V930" fill="none" stroke="#c64f66" stroke-width="1"/>
<path d="M1635.5 930 V868.5 H1641.5 V930" fill="none" stroke="#a0a0a0" stroke-width="1"/>
<path d="M1642.5 930 V897.5 H1648.5 V930" fill="none" stroke="#c64f66" stroke-width="1"/>
<path d="M1649.5 930 V918.5 H1655.5 V930" fill="none" stroke="#a0a0a0" stroke-width="1"/>
<path d="M1656.5 930 V876.5 H1662.5 V930" fill="none" stroke="#c64f66" stroke-width="1"/>
<path d="M1663.5 930 V873.5 H1669.5 V930" fill="none" stroke="#a0a0a0" stroke-width="1"/>
<path d="M1670.5 930 V884.5 H1676.5 V930" fill="none" stroke="#c64f66" stroke-width="1"/>
<path d="M1677.5 930 V890.5 H1683.5 V930" fill="none" stroke="#a0a0a0" stroke-width="1"/>
<path d="M1684.5 930 V889.5 H1689.5 V930" fill="none" stroke="#c64f66" stroke-width="1"/>
<path d="M1690.5 930 V894.5 H1696.5 V930" fill="none" stroke="#a0a0a0" stroke-width="1"/>
<path d="M1697.5 930 V900.5 H1703.5 V930" fill="none" stroke="#c64f66" stroke-width="1"/>
<path d="M1704.5 930 V897.5 H1710.5 V930" fill="none" stroke="#a0a0a0" stroke-width="1"/>
<path d="M1711.5 930 V896.5 H1717.5 V930" fill="none" stroke="#c64f66" stroke-width="1"/>
<path d="M1718.5 930 V901.5 H1724.5 V930" fill="none" stroke="#a0a0a0" stroke-width="1"/>
<path d="M1725.5 930 V906.5 H1731.5 V930" fill="none" stroke="#c64f66" stroke-width="1"/>
<path d="M1732.5 930 V899.5 H1738.5 V930" fill="none" stroke="#c64f66" stroke-width="1"/>
<path d="M1739.5 930 V896.5 H1744.5 V930" fill="none" stroke="#c64f66" stroke-width="1"/>
<path d="M1745.5 930 V896.5 H1751.5 V930" fill="none" stroke="#a0a0a0" stroke-width="1"/>
<path d="M1752.5 930 V894.5 H1758.5 V930" fill="none" stroke="#c64f66" stroke-width="1"/>
<path d="M1759.5 930 V872.5 H1765.5 V930" fill="none" stroke="#c64f66" stroke-width="1"/>
<path d="M1766.5 930 V882.5 H1772.5 V930" fill="none" stroke="#a0a0a0" stroke-width="1"/>
<path d="M1773.5 930 V898.5 H1779.5 V930" fill="none" stroke="#c64f66" stroke-width="1"/>
<path d="M1780.5 930 V879.5 H1786.5 V930" fill="none" stroke="#c64f66" stroke-width="1"/>
<path d="M1787.5 930 V901.5 H1792.5 V930" fill="none" stroke="#c64f66" stroke-width="1"/>
<path d="M1793.5 930 V915.5 H1799.5 V930" fill="none" stroke="#a0a0a0" stroke-width="1"/>
<path d="M1800.5 930 V899.5 H1806.5 V930" fill="none" stroke="#a0a0a0" stroke-width="1"/>
<path d="M1807.5 930 V907.5 H1813.5 V930" fill="none" stroke="#c64f66" stroke-width="1"/>
<path d="M1814.5 930 V911.5 H1820.5 V930" fill="none" stroke="#c64f66" stroke-width="1"/>
</g>
<g stroke="#000" stroke-opacity="0.62" stroke-width="1" stroke-dasharray="1.1 3.34" fill="none">
<path d="M99.5 930 V8"/>
<path d="M168.5 930 V8"/>
<path d="M237.5 930 V8"/>
<path d="M306.5 930 V8"/>
<path d="M374.5 930 V8"/>
<path d="M443.5 930 V8"/>
<path d="M512.5 930 V8"/>
<path d="M580.5 930 V8"/>
<path d="M649.5 930 V8"/>
<path d="M718.5 930 V8"/>
<path d="M787.5 930 V8"/>
<path d="M855.5 930 V8"/>
<path d="M924.5 930 V8"/>
<path d="M993.5 930 V8"/>
<path d="M1061.5 930 V8"/>
<path d="M1130.5 930 V8"/>
<path d="M1199.5 930 V8"/>
<path d="M1267.5 930 V8"/>
<path d="M1336.5 930 V8"/>
<path d="M1405.5 930 V8"/>
<path d="M1474.5 930 V8"/>
<path d="M1542.5 930 V8"/>
<path d="M1611.5 930 V8"/>
<path d="M1680.5 930 V8"/>
<path d="M1748.5 930 V8"/>
<path d="M1817.5 930 V8"/>
<path d="M97.3 870.5 H1824"/>
<path d="M97.3 810.5 H1824"/>
<path d="M97.3 750.5 H1824"/>
<path d="M97.3 690.5 H1824"/>
<path d="M97.3 629.5 H1824"/>
<path d="M97.3 569.5 H1824"/>
<path d="M97.3 509.5 H1824"/>
<path d="M97.3 449.5 H1824"/>
<path d="M97.3 389.5 H1824"/>
<path d="M97.3 328.5 H1824"/>
<path d="M97.3 268.5 H1824"/>
<path d="M97.3 208.5 H1824"/>
<path d="M97.3 148.5 H1824"/>
<path d="M97.3 88.5 H1824"/>
<path d="M97.3 27.5 H1824"/>
</g>
<g shape-rendering="crispEdges" fill="none" stroke-width="2">
<path d="M99 401 V480 M95 460 H99 M99 402 H103" stroke="#bfbfbf"/>
<path d="M106 339 V381 M102 362 H106 M106 356 H110" stroke="#bfbfbf"/>
<path d="M113 327 V373 M109 351 H113 M113 327 H117" stroke="#bfbfbf"/>
<path d="M120 239 V319 M116 302 H120 M120 262 H124" stroke="#bfbfbf"/>
<path d="M127 226 V282 M123 258 H127 M127 256 H131" stroke="#bfbfbf"/>
<path d="M134 240 V278 M130 267 H134 M134 243 H138" stroke="#bfbfbf"/>
<path d="M141 218 V245 M137 236 H141 M141 234 H145" stroke="#bfbfbf"/>
<path d="M148 219 V281 M144 224 H148 M148 271 H152" stroke="#ff0000"/>
<path d="M154 256 V280 M150 267 H154 M154 259 H158" stroke="#bfbfbf"/>
<path d="M161 242 V275 M157 274 H161 M161 254 H165" stroke="#bfbfbf"/>
<path d="M168 300 V365 M164 346 H168 M168 357 H172" stroke="#ff0000"/>
<path d="M175 318 V412 M171 328 H175 M175 396 H179" stroke="#ff0000"/>
<path d="M182 380 V588 M178 386 H182 M182 567 H186" stroke="#ff0000"/>
<path d="M189 434 V538 M185 530 H189 M189 437 H193" stroke="#bfbfbf"/>
<path d="M196 357 V405 M192 398 H196 M196 366 H200" stroke="#bfbfbf"/>
<path d="M202 314 V430 M198 328 H202 M202 412 H206" stroke="#ff0000"/>
<path d="M209 381 V455 M205 382 H209 M209 405 H213" stroke="#ff0000"/>
<path d="M216 388 V430 M212 403 H216 M216 410 H220" stroke="#ff0000"/>
<path d="M223 411 V449 M219 430 H223 M223 441 H227" stroke="#ff0000"/>
<path d="M230 382 V453 M226 423 H230 M230 537 H234" stroke="#ff0000"/>
<path d="M237 556 V622 M233 615 H237 M237 556 H241" stroke="#bfbfbf"/>
<path d="M244 534 V582 M240 547 H244 M244 582 H248" stroke="#ff0000"/>
<path d="M251 593 V690 M247 593 H251 M251 649 H255" stroke="#ff0000"/>
<path d="M257 611 V658 M253 632 H257 M257 633 H261" stroke="#ff0000"/>
<path d="M264 639 V733 M260 640 H264 M264 712 H268" stroke="#ff0000"/>
<path d="M271 699 V773 M267 710 H271 M271 707 H275" stroke="#bfbfbf"/>
<path d="M278 682 V767 M274 697 H278 M278 754 H282" stroke="#ff0000"/>
<path d="M285 728 V779 M281 740 H285 M285 787 H289" stroke="#ff0000"/>
<path d="M292 792 V832 M288 810 H292 M292 815 H296" stroke="#ff0000"/>
<path d="M299 787 V830 M295 816 H299 M299 824 H303" stroke="#ff0000"/>
<path d="M306 813 V850 M302 834 H306 M306 830 H310" stroke="#bfbfbf"/>
<path d="M312 716 V819 M308 816 H312 M312 719 H316" stroke="#bfbfbf"/>
<path d="M319 693 V732 M315 703 H319 M319 708 H323" stroke="#ff0000"/>
<path d="M326 686 V725 M322 718 H326 M326 718 H330" stroke="#bfbfbf"/>
<path d="M333 707 V730 M329 716 H333 M333 723 H337" stroke="#ff0000"/>
<path d="M340 651 V723 M336 723 H340 M340 665 H344" stroke="#bfbfbf"/>
<path d="M347 656 V686 M343 668 H347 M347 668 H351" stroke="#bfbfbf"/>
<path d="M354 602 V654 M350 651 H354 M354 609 H358" stroke="#bfbfbf"/>
<path d="M361 576 V848 M357 596 H361 M361 737 H365" stroke="#ff0000"/>
<path d="M367 705 V742 M363 708 H367 M367 724 H371" stroke="#ff0000"/>
<path d="M374 650 V739 M370 729 H374 M374 673 H378" stroke="#bfbfbf"/>
<path d="M381 623 V675 M377 637 H381 M381 664 H385" stroke="#ff0000"/>
<path d="M388 641 V715 M384 651 H388 M388 711 H392" stroke="#ff0000"/>
<path d="M395 710 V756 M391 725 H395 M395 726 H399" stroke="#ff0000"/>
<path d="M402 748 V792 M398 777 H402 M402 777 H406" stroke="#ff0000"/>
<path d="M409 755 V834 M405 770 H409 M409 826 H413" stroke="#ff0000"/>
<path d="M415 820 V879 M411 825 H415 M415 852 H419" stroke="#ff0000"/>
<path d="M422 813 V861 M418 837 H422 M422 854 H426" stroke="#ff0000"/>
<path d="M429 784 V875 M425 860 H429 M429 789 H433" stroke="#bfbfbf"/>
<path d="M436 784 V837 M432 791 H436 M436 820 H440" stroke="#ff0000"/>
<path d="M443 800 V849 M439 800 H443 M443 846 H447" stroke="#ff0000"/>
<path d="M450 834 V864 M446 846 H450 M450 842 H454" stroke="#bfbfbf"/>
<path d="M457 794 V834 M453 830 H457 M457 803 H461" stroke="#bfbfbf"/>
<path d="M464 787 V844 M460 795 H464 M464 841 H468" stroke="#ff0000"/>
<path d="M470 822 V852 M466 842 H470 M470 840 H474" stroke="#bfbfbf"/>
<path d="M477 814 V840 M473 830 H477 M477 832 H481" stroke="#ff0000"/>
<path d="M484 702 V737 M480 708 H484 M484 722 H488" stroke="#ff0000"/>
<path d="M491 699 V726 M487 716 H491 M491 704 H495" stroke="#bfbfbf"/>
<path d="M498 670 V696 M494 695 H498 M498 678 H502" stroke="#bfbfbf"/>
<path d="M505 571 V658 M501 657 H505 M505 572 H509" stroke="#bfbfbf"/>
<path d="M512 594 V640 M508 614 H512 M512 608 H516" stroke="#bfbfbf"/>
<path d="M519 602 V637 M515 616 H519 M519 607 H523" stroke="#bfbfbf"/>
<path d="M525 599 V619 M521 612 H525 M525 611 H529" stroke="#bfbfbf"/>
<path d="M532 542 V619 M528 611 H532 M532 543 H536" stroke="#bfbfbf"/>
<path d="M539 497 V550 M535 526 H539 M539 527 H543" stroke="#ff0000"/>
<path d="M546 501 V538 M542 534 H546 M546 512 H550" stroke="#bfbfbf"/>
<path d="M553 505 V545 M549 507 H553 M553 536 H557" stroke="#ff0000"/>
<path d="M560 485 V540 M556 532 H560 M560 486 H564" stroke="#bfbfbf"/>
<path d="M567 476 V535 M563 489 H567 M567 520 H571" stroke="#ff0000"/>
<path d="M574 512 V539 M570 523 H574 M574 523 H578" stroke="#ff0000"/>
<path d="M580 519 V561 M576 524 H580 M580 554 H584" stroke="#ff0000"/>
<path d="M587 507 V559 M583 548 H587 M587 533 H591" stroke="#bfbfbf"/>
<path d="M594 519 V556 M590 528 H594 M594 544 H598" stroke="#ff0000"/>
<path d="M601 501 V532 M597 506 H601 M601 516 H605" stroke="#ff0000"/>
<path d="M608 394 V526 M604 513 H608 M608 432 H612" stroke="#bfbfbf"/>
<path d="M615 330 V398 M611 338 H615 M615 393 H619" stroke="#ff0000"/>
<path d="M622 358 V396 M618 382 H622 M622 378 H626" stroke="#bfbfbf"/>
<path d="M628 375 V443 M624 382 H628 M628 439 H632" stroke="#ff0000"/>
<path d="M635 426 V455 M631 435 H635 M635 444 H639" stroke="#ff0000"/>
<path d="M642 440 V475 M638 459 H642 M642 472 H646" stroke="#ff0000"/>
<path d="M649 446 V489 M645 478 H649 M649 482 H653" stroke="#ff0000"/>
<path d="M656 476 V570 M652 477 H656 M656 569 H660" stroke="#ff0000"/>
<path d="M663 553 V618 M659 559 H663 M663 588 H667" stroke="#ff0000"/>
<path d="M670 557 V605 M666 581 H670 M670 591 H674" stroke="#ff0000"/>
<path d="M677 569 V600 M673 588 H677 M677 588 H681" stroke="#ff0000"/>
<path d="M683 561 V601 M679 574 H683 M683 591 H687" stroke="#ff0000"/>
<path d="M690 578 V610 M686 588 H690 M690 588 H694" stroke="#ff0000"/>
<path d="M697 523 V593 M693 584 H697 M697 524 H701" stroke="#bfbfbf"/>
<path d="M704 510 V555 M700 526 H704 M704 550 H708" stroke="#ff0000"/>
<path d="M711 543 V633 M707 548 H711 M711 624 H715" stroke="#ff0000"/>
<path d="M718 634 V686 M714 640 H718 M718 683 H722" stroke="#ff0000"/>
<path d="M725 656 V711 M721 675 H725 M725 674 H729" stroke="#bfbfbf"/>
<path d="M732 671 V703 M728 674 H732 M732 698 H736" stroke="#ff0000"/>
<path d="M738 657 V700 M734 700 H738 M738 682 H742" stroke="#bfbfbf"/>
<path d="M745 648 V698 M741 662 H745 M745 698 H749" stroke="#ff0000"/>
<path d="M752 682 V745 M748 686 H752 M752 702 H756" stroke="#ff0000"/>
<path d="M759 689 V723 M755 712 H759 M759 698 H763" stroke="#bfbfbf"/>
<path d="M766 639 V685 M762 683 H766 M766 676 H770" stroke="#bfbfbf"/>
<path d="M773 641 V694 M769 668 H773 M773 651 H777" stroke="#bfbfbf"/>
<path d="M780 642 V691 M776 660 H780 M780 643 H784" stroke="#bfbfbf"/>
<path d="M787 630 V655 M783 634 H787 M787 650 H791" stroke="#ff0000"/>
<path d="M793 652 V695 M789 663 H793 M793 694 H797" stroke="#ff0000"/>
<path d="M800 664 V717 M796 685 H800 M800 694 H804" stroke="#ff0000"/>
<path d="M807 644 V694 M803 686 H807 M807 644 H811" stroke="#bfbfbf"/>
<path d="M814 625 V667 M810 625 H814 M814 659 H818" stroke="#ff0000"/>
<path d="M821 650 V682 M817 674 H821 M821 682 H825" stroke="#ff0000"/>
<path d="M828 610 V672 M824 672 H828 M828 610 H832" stroke="#bfbfbf"/>
<path d="M835 588 V626 M831 595 H835 M835 626 H839" stroke="#ff0000"/>
<path d="M841 591 V663 M837 621 H841 M841 595 H845" stroke="#bfbfbf"/>
<path d="M848 585 V632 M844 600 H848 M848 625 H852" stroke="#ff0000"/>
<path d="M855 608 V652 M851 618 H855 M855 649 H859" stroke="#ff0000"/>
<path d="M862 625 V665 M858 652 H862 M862 625 H866" stroke="#bfbfbf"/>
<path d="M869 605 V663 M865 611 H869 M869 636 H873" stroke="#ff0000"/>
<path d="M876 600 V643 M872 626 H876 M876 606 H880" stroke="#bfbfbf"/>
<path d="M883 606 V619 M879 614 H883 M883 606 H887" stroke="#bfbfbf"/>
<path d="M890 588 V623 M886 606 H890 M890 618 H894" stroke="#ff0000"/>
<path d="M896 602 V625 M892 618 H896 M896 623 H900" stroke="#ff0000"/>
<path d="M903 546 V610 M899 605 H903 M903 554 H907" stroke="#bfbfbf"/>
<path d="M910 537 V619 M906 557 H910 M910 564 H914" stroke="#ff0000"/>
<path d="M917 519 V560 M913 552 H917 M917 542 H921" stroke="#bfbfbf"/>
<path d="M924 526 V549 M920 533 H924 M924 545 H928" stroke="#ff0000"/>
<path d="M931 527 V560 M927 538 H931 M931 554 H935" stroke="#ff0000"/>
<path d="M938 534 V559 M934 546 H938 M938 536 H942" stroke="#bfbfbf"/>
<path d="M945 480 V537 M941 527 H945 M945 482 H949" stroke="#bfbfbf"/>
<path d="M951 474 V507 M947 492 H951 M951 475 H955" stroke="#bfbfbf"/>
<path d="M958 455 V474 M954 472 H958 M958 456 H962" stroke="#bfbfbf"/>
<path d="M965 459 V492 M961 465 H965 M965 465 H969" stroke="#ff0000"/>
<path d="M972 447 V463 M968 456 H972 M972 457 H976" stroke="#ff0000"/>
<path d="M979 436 V491 M975 444 H979 M979 470 H983" stroke="#ff0000"/>
<path d="M986 448 V489 M982 456 H986 M986 479 H990" stroke="#ff0000"/>
<path d="M993 449 V504 M989 479 H993 M993 450 H997" stroke="#bfbfbf"/>
<path d="M1000 459 V487 M996 461 H1000 M1000 486 H1004" stroke="#ff0000"/>
<path d="M1006 480 V533 M1002 500 H1006 M1006 524 H1010" stroke="#ff0000"/>
<path d="M1013 511 V571 M1009 517 H1013 M1013 548 H1017" stroke="#ff0000"/>
<path d="M1020 514 V547 M1016 543 H1020 M1020 528 H1024" stroke="#bfbfbf"/>
<path d="M1027 516 V575 M1023 518 H1027 M1027 549 H1031" stroke="#ff0000"/>
<path d="M1034 559 V588 M1030 586 H1034 M1034 568 H1038" stroke="#bfbfbf"/>
<path d="M1041 545 V630 M1037 545 H1041 M1041 624 H1045" stroke="#ff0000"/>
<path d="M1048 602 V666 M1044 628 H1048 M1048 609 H1052" stroke="#bfbfbf"/>
<path d="M1054 593 V650 M1050 597 H1054 M1054 606 H1058" stroke="#ff0000"/>
<path d="M1061 604 V638 M1057 632 H1061 M1061 612 H1065" stroke="#bfbfbf"/>
<path d="M1068 602 V642 M1064 618 H1068 M1068 631 H1072" stroke="#ff0000"/>
<path d="M1075 621 V665 M1071 622 H1075 M1075 645 H1079" stroke="#ff0000"/>
<path d="M1082 612 V648 M1078 647 H1082 M1082 618 H1086" stroke="#bfbfbf"/>
<path d="M1089 614 V640 M1085 619 H1089 M1089 626 H1093" stroke="#ff0000"/>
<path d="M1096 630 V677 M1092 633 H1096 M1096 677 H1100" stroke="#ff0000"/>
<path d="M1103 670 V724 M1099 677 H1103 M1103 715 H1107" stroke="#ff0000"/>
<path d="M1109 666 V733 M1105 726 H1109 M1109 678 H1113" stroke="#bfbfbf"/>
<path d="M1116 654 V693 M1112 658 H1116 M1116 685 H1120" stroke="#ff0000"/>
<path d="M1123 658 V696 M1119 695 H1123 M1123 666 H1127" stroke="#bfbfbf"/>
<path d="M1130 636 V660 M1126 642 H1130 M1130 652 H1134" stroke="#ff0000"/>
<path d="M1137 635 V672 M1133 644 H1137 M1137 671 H1141" stroke="#ff0000"/>
<path d="M1144 667 V691 M1140 685 H1144 M1144 683 H1148" stroke="#bfbfbf"/>
<path d="M1151 678 V711 M1147 681 H1151 M1151 709 H1155" stroke="#ff0000"/>
<path d="M1158 679 V708 M1154 696 H1158 M1158 704 H1162" stroke="#ff0000"/>
<path d="M1164 649 V691 M1160 684 H1164 M1164 651 H1168" stroke="#bfbfbf"/>
<path d="M1171 617 V647 M1167 640 H1171 M1171 620 H1175" stroke="#bfbfbf"/>
<path d="M1178 610 V638 M1174 626 H1178 M1178 630 H1182" stroke="#ff0000"/>
<path d="M1185 624 V652 M1181 626 H1185 M1185 641 H1189" stroke="#ff0000"/>
<path d="M1192 661 V678 M1188 664 H1192 M1192 669 H1196" stroke="#ff0000"/>
<path d="M1199 660 V679 M1195 667 H1199 M1199 663 H1203" stroke="#bfbfbf"/>
<path d="M1206 664 V690 M1202 666 H1206 M1206 687 H1210" stroke="#ff0000"/>
<path d="M1213 673 V692 M1209 682 H1213 M1213 684 H1217" stroke="#ff0000"/>
<path d="M1219 678 V690 M1215 689 H1219 M1219 686 H1223" stroke="#bfbfbf"/>
<path d="M1226 652 V678 M1222 677 H1226 M1226 652 H1230" stroke="#bfbfbf"/>
<path d="M1233 646 V668 M1229 652 H1233 M1233 660 H1237" stroke="#ff0000"/>
<path d="M1240 635 V662 M1236 660 H1240 M1240 652 H1244" stroke="#bfbfbf"/>
<path d="M1247 648 V664 M1243 650 H1247 M1247 661 H1251" stroke="#ff0000"/>
<path d="M1254 652 V668 M1250 652 H1254 M1254 664 H1258" stroke="#ff0000"/>
<path d="M1261 632 V668 M1257 657 H1261 M1261 634 H1265" stroke="#bfbfbf"/>
<path d="M1267 642 V657 M1263 645 H1267 M1267 656 H1271" stroke="#ff0000"/>
<path d="M1274 648 V668 M1270 659 H1274 M1274 662 H1278" stroke="#ff0000"/>
<path d="M1281 653 V672 M1277 672 H1281 M1281 666 H1285" stroke="#bfbfbf"/>
<path d="M1288 635 V667 M1284 666 H1288 M1288 637 H1292" stroke="#bfbfbf"/>
<path d="M1295 598 V633 M1291 632 H1295 M1295 602 H1299" stroke="#bfbfbf"/>
<path d="M1302 534 V587 M1298 587 H1302 M1302 534 H1306" stroke="#bfbfbf"/>
<path d="M1309 535 V555 M1305 544 H1309 M1309 545 H1313" stroke="#ff0000"/>
<path d="M1316 518 V531 M1312 530 H1316 M1316 520 H1320" stroke="#bfbfbf"/>
<path d="M1322 478 V520 M1318 518 H1322 M1322 496 H1326" stroke="#bfbfbf"/>
<path d="M1329 492 V597 M1325 493 H1329 M1329 546 H1333" stroke="#ff0000"/>
<path d="M1336 531 V588 M1332 532 H1336 M1336 578 H1340" stroke="#ff0000"/>
<path d="M1343 525 V564 M1339 563 H1343 M1343 533 H1347" stroke="#bfbfbf"/>
<path d="M1350 530 V557 M1346 540 H1350 M1350 546 H1354" stroke="#ff0000"/>
<path d="M1357 522 V553 M1353 539 H1357 M1357 545 H1361" stroke="#ff0000"/>
<path d="M1364 529 V556 M1360 540 H1364 M1364 531 H1368" stroke="#bfbfbf"/>
<path d="M1371 513 V552 M1367 535 H1371 M1371 551 H1375" stroke="#ff0000"/>
<path d="M1377 532 V562 M1373 544 H1377 M1377 548 H1381" stroke="#ff0000"/>
<path d="M1384 538 V557 M1380 540 H1384 M1384 555 H1388" stroke="#ff0000"/>
<path d="M1391 537 V560 M1387 555 H1391 M1391 559 H1395" stroke="#ff0000"/>
<path d="M1398 534 V572 M1394 557 H1398 M1398 546 H1402" stroke="#bfbfbf"/>
<path d="M1405 491 V549 M1401 541 H1405 M1405 492 H1409" stroke="#bfbfbf"/>
<path d="M1412 480 V513 M1408 496 H1412 M1412 510 H1416" stroke="#ff0000"/>
<path d="M1419 463 V518 M1415 516 H1419 M1419 469 H1423" stroke="#bfbfbf"/>
<path d="M1426 417 V456 M1422 450 H1426 M1426 431 H1430" stroke="#bfbfbf"/>
<path d="M1432 390 V460 M1428 418 H1432 M1432 440 H1436" stroke="#ff0000"/>
<path d="M1439 426 V454 M1435 448 H1439 M1439 442 H1443" stroke="#bfbfbf"/>
<path d="M1446 427 V453 M1442 432 H1446 M1446 437 H1450" stroke="#ff0000"/>
<path d="M1453 428 V445 M1449 436 H1453 M1453 438 H1457" stroke="#ff0000"/>
<path d="M1460 430 V466 M1456 437 H1460 M1460 464 H1464" stroke="#ff0000"/>
<path d="M1467 455 V487 M1463 471 H1467 M1467 469 H1471" stroke="#bfbfbf"/>
<path d="M1474 450 V484 M1470 458 H1474 M1474 475 H1478" stroke="#ff0000"/>
<path d="M1480 311 V474 M1476 471 H1480 M1480 351 H1484" stroke="#bfbfbf"/>
<path d="M1487 287 V316 M1483 292 H1487 M1487 289 H1491" stroke="#bfbfbf"/>
<path d="M1494 174 V285 M1490 277 H1494 M1494 192 H1498" stroke="#bfbfbf"/>
<path d="M1501 205 V234 M1497 212 H1501 M1501 226 H1505" stroke="#ff0000"/>
<path d="M1508 156 V218 M1504 208 H1508 M1508 164 H1512" stroke="#bfbfbf"/>
<path d="M1515 140 V175 M1511 160 H1515 M1515 172 H1519" stroke="#ff0000"/>
<path d="M1522 171 V230 M1518 178 H1522 M1522 218 H1526" stroke="#ff0000"/>
<path d="M1529 193 V241 M1525 219 H1529 M1529 211 H1533" stroke="#bfbfbf"/>
<path d="M1535 186 V224 M1531 204 H1535 M1535 212 H1539" stroke="#ff0000"/>
<path d="M1542 200 V263 M1538 201 H1542 M1542 253 H1546" stroke="#ff0000"/>
<path d="M1549 224 V257 M1545 253 H1549 M1549 241 H1553" stroke="#bfbfbf"/>
<path d="M1556 224 V263 M1552 231 H1556 M1556 232 H1560" stroke="#ff0000"/>
<path d="M1563 197 V230 M1559 224 H1563 M1563 210 H1567" stroke="#bfbfbf"/>
<path d="M1570 201 V232 M1566 210 H1570 M1570 230 H1574" stroke="#ff0000"/>
<path d="M1577 187 V247 M1573 240 H1577 M1577 219 H1581" stroke="#bfbfbf"/>
<path d="M1584 198 V232 M1580 212 H1584 M1584 228 H1588" stroke="#ff0000"/>
<path d="M1590 220 V240 M1586 224 H1590 M1590 225 H1594" stroke="#ff0000"/>
<path d="M1597 190 V222 M1593 219 H1597 M1597 191 H1601" stroke="#bfbfbf"/>
<path d="M1604 151 V192 M1600 192 H1604 M1604 153 H1608" stroke="#bfbfbf"/>
<path d="M1611 104 V141 M1607 134 H1611 M1611 140 H1615" stroke="#ff0000"/>
<path d="M1618 114 V137 M1614 126 H1618 M1618 121 H1622" stroke="#bfbfbf"/>
<path d="M1625 105 V135 M1621 134 H1625 M1625 108 H1629" stroke="#bfbfbf"/>
<path d="M1632 110 V137 M1628 110 H1632 M1632 126 H1636" stroke="#ff0000"/>
<path d="M1639 57 V123 M1635 121 H1639 M1639 58 H1643" stroke="#bfbfbf"/>
<path d="M1645 43 V76 M1641 53 H1645 M1645 66 H1649" stroke="#ff0000"/>
<path d="M1652 69 V84 M1648 82 H1652 M1652 80 H1656" stroke="#bfbfbf"/>
<path d="M1659 96 V174 M1655 96 H1659 M1659 174 H1663" stroke="#ff0000"/>
<path d="M1666 150 V208 M1662 190 H1666 M1666 151 H1670" stroke="#bfbfbf"/>
<path d="M1673 128 V185 M1669 130 H1673 M1673 174 H1677" stroke="#ff0000"/>
<path d="M1680 148 V188 M1676 176 H1680 M1680 172 H1684" stroke="#bfbfbf"/>
<path d="M1687 157 V202 M1683 168 H1687 M1687 192 H1691" stroke="#ff0000"/>
<path d="M1693 162 V197 M1689 182 H1693 M1693 172 H1697" stroke="#bfbfbf"/>
<path d="M1700 152 V172 M1696 161 H1700 M1700 163 H1704" stroke="#ff0000"/>
<path d="M1707 138 V174 M1703 163 H1707 M1707 154 H1711" stroke="#bfbfbf"/>
<path d="M1714 141 V184 M1710 148 H1714 M1714 183 H1718" stroke="#ff0000"/>
<path d="M1721 156 V194 M1717 187 H1721 M1721 176 H1725" stroke="#bfbfbf"/>
<path d="M1728 154 V177 M1724 172 H1728 M1728 177 H1732" stroke="#ff0000"/>
<path d="M1735 166 V194 M1731 178 H1735 M1735 187 H1739" stroke="#ff0000"/>
<path d="M1742 170 V208 M1738 174 H1742 M1742 200 H1746" stroke="#ff0000"/>
<path d="M1748 178 V208 M1744 194 H1748 M1748 186 H1752" stroke="#bfbfbf"/>
<path d="M1755 177 V195 M1751 183 H1755 M1755 193 H1759" stroke="#ff0000"/>
<path d="M1762 183 V284 M1758 183 H1762 M1762 275 H1766" stroke="#ff0000"/>
<path d="M1769 246 V295 M1765 280 H1769 M1769 248 H1773" stroke="#bfbfbf"/>
<path d="M1776 235 V277 M1772 242 H1776 M1776 274 H1780" stroke="#ff0000"/>
<path d="M1783 263 V323 M1779 268 H1783 M1783 305 H1787" stroke="#ff0000"/>
<path d="M1790 294 V321 M1786 299 H1790 M1790 310 H1794" stroke="#ff0000"/>
<path d="M1797 290 V312 M1793 304 H1797 M1797 299 H1801" stroke="#bfbfbf"/>
<path d="M1803 250 V292 M1799 288 H1803 M1803 250 H1807" stroke="#bfbfbf"/>
<path d="M1810 248 V276 M1806 255 H1810 M1810 276 H1814" stroke="#ff0000"/>
<path d="M1817 267 V287 M1813 278 H1817 M1817 286 H1821" stroke="#ff0000"/>
</g>
<g stroke="#000" stroke-width="1" stroke-dasharray="1.1 3.34" fill="none">
<path d="M897.5 930 V8"/>
<path d="M97 308.5 H1824"/>
</g>
<g shape-rendering="crispEdges" fill="none" stroke="#000" stroke-width="1">
<rect x="96.5" y="7.5" width="1728" height="923"/>
<path d="M96 930.5 H100"/>
<path d="M96 870.5 H100"/>
<path d="M96 810.5 H100"/>
<path d="M96 750.5 H100"/>
<path d="M96 690.5 H100"/>
<path d="M96 629.5 H100"/>
<path d="M96 569.5 H100"/>
<path d="M96 509.5 H100"/>
<path d="M96 449.5 H100"/>
<path d="M96 389.5 H100"/>
<path d="M96 328.5 H100"/>
<path d="M96 268.5 H100"/>
<path d="M96 208.5 H100"/>
<path d="M96 148.5 H100"/>
<path d="M96 88.5 H100"/>
<path d="M96 27.5 H100"/>
<path d="M99.5 930 V928"/>
<path d="M99.5 7 V9"/>
<path d="M168.5 930 V928"/>
<path d="M168.5 7 V9"/>
<path d="M237.5 930 V928"/>
<path d="M237.5 7 V9"/>
<path d="M306.5 930 V928"/>
<path d="M306.5 7 V9"/>
<path d="M374.5 930 V928"/>
<path d="M374.5 7 V9"/>
<path d="M443.5 930 V928"/>
<path d="M443.5 7 V9"/>
<path d="M512.5 930 V928"/>
<path d="M512.5 7 V9"/>
<path d="M580.5 930 V928"/>
<path d="M580.5 7 V9"/>
<path d="M649.5 930 V928"/>
<path d="M649.5 7 V9"/>
<path d="M718.5 930 V928"/>
<path d="M718.5 7 V9"/>
<path d="M787.5 930 V928"/>
<path d="M787.5 7 V9"/>
<path d="M855.5 930 V928"/>
<path d="M855.5 7 V9"/>
<path d="M924.5 930 V928"/>
<path d="M924.5 7 V9"/>
<path d="M993.5 930 V928"/>
<path d="M993.5 7 V9"/>
<path d="M1061.5 930 V928"/>
<path d="M1061.5 7 V9"/>
<path d="M1130.5 930 V928"/>
<path d="M1130.5 7 V9"/>
<path d="M1199.5 930 V928"/>
<path d="M1199.5 7 V9"/>
<path d="M1267.5 930 V928"/>
<path d="M1267.5 7 V9"/>
<path d="M1336.5 930 V928"/>
<path d="M1336.5 7 V9"/>
<path d="M1405.5 930 V928"/>
<path d="M1405.5 7 V9"/>
<path d="M1474.5 930 V928"/>
<path d="M1474.5 7 V9"/>
<path d="M1542.5 930 V928"/>
<path d="M1542.5 7 V9"/>
<path d="M1611.5 930 V928"/>
<path d="M1611.5 7 V9"/>
<path d="M1680.5 930 V928"/>
<path d="M1680.5 7 V9"/>
<path d="M1748.5 930 V928"/>
<path d="M1748.5 7 V9"/>
<path d="M1817.5 930 V928"/>
<path d="M1817.5 7 V9"/>
<path d="M1820 838.5 H1824"/>
<path d="M1820 746.5 H1824"/>
<path d="M1820 654.5 H1824"/>
<path d="M1820 561.5 H1824"/>
<path d="M1820 469.5 H1824"/>
<path d="M1820 376.5 H1824"/>
<path d="M1820 284.5 H1824"/>
<path d="M1820 192.5 H1824"/>
<path d="M1820 99.5 H1824"/>
</g>
<g font-family="Liberation Sans, sans-serif" font-size="12.6" fill="#000" style="text-rendering:geometricPrecision">
<text x="92" y="934.0" text-anchor="end" textLength="18.0" lengthAdjust="spacingAndGlyphs">0M</text>
<text x="92" y="873.8" text-anchor="end" textLength="18.0" lengthAdjust="spacingAndGlyphs">8M</text>
<text x="92" y="813.6" text-anchor="end" textLength="26.1" lengthAdjust="spacingAndGlyphs">16M</text>
<text x="92" y="753.4" text-anchor="end" textLength="26.1" lengthAdjust="spacingAndGlyphs">24M</text>
<text x="92" y="693.2" text-anchor="end" textLength="26.1" lengthAdjust="spacingAndGlyphs">32M</text>
<text x="92" y="633.0" text-anchor="end" textLength="26.1" lengthAdjust="spacingAndGlyphs">40M</text>
<text x="92" y="572.8" text-anchor="end" textLength="26.1" lengthAdjust="spacingAndGlyphs">48M</text>
<text x="1827" y="842.0" textLength="25" lengthAdjust="spacingAndGlyphs">170</text>
<text x="1827" y="749.6" textLength="25" lengthAdjust="spacingAndGlyphs">180</text>
<text x="1827" y="657.2" textLength="25" lengthAdjust="spacingAndGlyphs">190</text>
<text x="1827" y="564.9" textLength="25" lengthAdjust="spacingAndGlyphs">200</text>
<text x="1827" y="472.5" textLength="25" lengthAdjust="spacingAndGlyphs">210</text>
<text x="1827" y="380.1" textLength="25" lengthAdjust="spacingAndGlyphs">220</text>
<text x="1827" y="195.3" textLength="25" lengthAdjust="spacingAndGlyphs">240</text>
<text x="1827" y="102.9" textLength="25" lengthAdjust="spacingAndGlyphs">250</text>
<text x="168.5" y="945" text-anchor="middle" textLength="16" lengthAdjust="spacingAndGlyphs">18</text>
<text x="237.5" y="945" text-anchor="middle" textLength="16" lengthAdjust="spacingAndGlyphs">01</text>
<text x="306.5" y="945" text-anchor="middle" textLength="16" lengthAdjust="spacingAndGlyphs">15</text>
<text x="374.5" y="945" text-anchor="middle" textLength="16" lengthAdjust="spacingAndGlyphs">02</text>
<text x="512.5" y="945" text-anchor="middle" textLength="16" lengthAdjust="spacingAndGlyphs">30</text>
<text x="580.5" y="945" text-anchor="middle" textLength="16" lengthAdjust="spacingAndGlyphs">13</text>
<text x="649.5" y="945" text-anchor="middle" textLength="16" lengthAdjust="spacingAndGlyphs">28</text>
<text x="718.5" y="945" text-anchor="middle" textLength="16" lengthAdjust="spacingAndGlyphs">12</text>
<text x="855.5" y="945" text-anchor="middle" textLength="16" lengthAdjust="spacingAndGlyphs">12</text>
<text x="924.5" y="945" text-anchor="middle" textLength="16" lengthAdjust="spacingAndGlyphs">26</text>
<text x="993.5" y="945" text-anchor="middle" textLength="16" lengthAdjust="spacingAndGlyphs">11</text>
<text x="1061.5" y="945" text-anchor="middle" textLength="16" lengthAdjust="spacingAndGlyphs">25</text>
<text x="1199.5" y="945" text-anchor="middle" textLength="16" lengthAdjust="spacingAndGlyphs">22</text>
<text x="1267.5" y="945" text-anchor="middle" textLength="16" lengthAdjust="spacingAndGlyphs">06</text>
<text x="1336.5" y="945" text-anchor="middle" textLength="16" lengthAdjust="spacingAndGlyphs">20</text>
<text x="1405.5" y="945" text-anchor="middle" textLength="16" lengthAdjust="spacingAndGlyphs">04</text>
<text x="1542.5" y="945" text-anchor="middle" textLength="16" lengthAdjust="spacingAndGlyphs">01</text>
<text x="1611.5" y="945" text-anchor="middle" textLength="16" lengthAdjust="spacingAndGlyphs">15</text>
<text x="1680.5" y="945" text-anchor="middle" textLength="16" lengthAdjust="spacingAndGlyphs">30</text>
<text x="1748.5" y="945" text-anchor="middle" textLength="16" lengthAdjust="spacingAndGlyphs">14</text>
</g>
<g shape-rendering="crispEdges" fill="none" stroke-width="1.6">
<path d="M108 17 V24 M106 20 H108 M108 18 H111" stroke="#bfbfbf" stroke-width="2"/>
<path d="M115 17 V24 M113 20 H115 M115 22 H117" stroke="#ff0000" stroke-width="2"/>
<path d="M122 17 V24 M119 20 H122 M122 18 H124" stroke="#bfbfbf" stroke-width="2"/>
</g>
<g shape-rendering="crispEdges">
<rect x="105.5" y="35.5" width="7" height="4" fill="#d4d4d4" stroke="#a0a0a0"/>
<rect x="118.5" y="34.5" width="7" height="5" fill="#d4d4d4" stroke="#a0a0a0"/>
<rect x="112.5" y="32.5" width="6" height="7" fill="#e6b0b9" stroke="#c64f66"/>
</g>
<g font-family="Liberation Sans, sans-serif" font-size="10.4" fill="#000" style="text-rendering:geometricPrecision">
<text x="136.5" y="23.6" textLength="213.4" lengthAdjust="spacingAndGlyphs">(1 Day) O:230.64 H:232 L:229.52 C:229.83</text>
<text x="133.3" y="39" textLength="35" lengthAdjust="spacingAndGlyphs">Volume</text>
</g>
<path d="M1820 285.3 L1821.8 279 H1859.5 V292 H1821.8 Z" fill="#fff" stroke="#000" stroke-width="1"/>
<text x="1824.7" y="289.2" font-family="Liberation Sans, sans-serif" font-size="10.4" textLength="32.5" lengthAdjust="spacingAndGlyphs" fill="#000" style="text-rendering:geometricPrecision">229.83</text>
</svg>
<svg width="30" height="30" viewBox="0 0 30 30" style="position:absolute;left:2px;top:982px"><rect x="0" y="0" width="30" height="30" fill="#e6e6e6"/><rect x="1.5" y="1.5" width="27" height="27" fill="none" stroke="#f0f0f0" stroke-width="1"/><path d="M0.5 30 V0.5 H29" fill="none" stroke="#ffffff" stroke-width="1"/><path d="M0 29.5 H29.5 V0" fill="none" stroke="#6e6e6e" stroke-width="1"/><defs><linearGradient id="door" x1="0" y1="0" x2="1" y2="1"><stop offset="0" stop-color="#fae6b0"/><stop offset="1" stop-color="#f0a820"/></linearGradient><linearGradient id="wall" x1="0" y1="0" x2="1" y2="0"><stop offset="0" stop-color="#7a9a9c"/><stop offset="0.18" stop-color="#ffffff"/><stop offset="0.82" stop-color="#ffffff"/><stop offset="1" stop-color="#8aa4a6"/></linearGradient></defs><rect x="8.1" y="5.2" width="3.6" height="5" fill="#f2b840" stroke="#a85a48" stroke-width="0.7"/><path d="M8 13 L15.5 6 L22 12.5 V26.6 H8 Z" fill="url(#wall)"/><rect x="8" y="25.6" width="14" height="1.2" fill="#5a8a90"/><path d="M11.6 25.8 V17 Q11.6 14.2 15.1 14.2 Q18.6 14.2 18.6 17 V25.8 Z" fill="url(#door)" stroke="#a04a30" stroke-width="0.8"/><path d="M4.2 16.6 L15.5 5.5 L24.8 15.8" fill="none" stroke="#8c1a36" stroke-width="3.6" stroke-linejoin="miter"/><path d="M4.2 16.6 L15.5 5.5 L24.8 15.8" fill="none" stroke="#c8385a" stroke-width="2.2" stroke-linejoin="miter"/></svg><svg width="30" height="30" viewBox="0 0 30 30" style="position:absolute;left:32px;top:982px"><rect x="0" y="0" width="30" height="30" fill="#e6e6e6"/><rect x="1.5" y="1.5" width="27" height="27" fill="none" stroke="#f0f0f0" stroke-width="1"/><path d="M0.5 30 V0.5 H29" fill="none" stroke="#ffffff" stroke-width="1"/><path d="M0 29.5 H29.5 V0" fill="none" stroke="#6e6e6e" stroke-width="1"/><defs><radialGradient id="cg1" cx="0.33" cy="0.33" r="0.75"><stop offset="0" stop-color="#70ffff"/><stop offset="0.35" stop-color="#22a6bc"/><stop offset="1" stop-color="#08708e"/></radialGradient></defs><circle cx="15" cy="15.3" r="10.2" fill="url(#cg1)" stroke="#0a6c88" stroke-width="0.6"/><path d="M9.1 15.3 L15.9 9.6 V13.5 H20.9 V17.4 H15.9 V21.2 Z" fill="#c4e8ec"/></svg><svg width="30" height="30" viewBox="0 0 30 30" style="position:absolute;left:62px;top:982px"><rect x="0" y="0" width="30" height="30" fill="#e6e6e6"/><rect x="1.5" y="1.5" width="27" height="27" fill="none" stroke="#f0f0f0" stroke-width="1"/><path d="M0.5 30 V0.5 H29" fill="none" stroke="#ffffff" stroke-width="1"/><path d="M0 29.5 H29.5 V0" fill="none" stroke="#6e6e6e" stroke-width="1"/><defs><radialGradient id="cg2" cx="0.33" cy="0.33" r="0.75"><stop offset="0" stop-color="#70ffff"/><stop offset="0.35" stop-color="#22a6bc"/><stop offset="1" stop-color="#08708e"/></radialGradient></defs><circle cx="15" cy="15.3" r="10.2" fill="url(#cg2)" stroke="#0a6c88" stroke-width="0.6"/><path d="M22 15.3 L15.3 9.6 V13.5 H10.6 V17.4 H15.3 V21.2 Z" fill="#c4e8ec"/></svg><svg width="30" height="30" viewBox="0 0 30 30" style="position:absolute;left:92px;top:982px"><rect x="0" y="0" width="30" height="30" fill="#e6e6e6"/><rect x="1.5" y="1.5" width="27" height="27" fill="none" stroke="#f0f0f0" stroke-width="1"/><path d="M0.5 30 V0.5 H29" fill="none" stroke="#ffffff" stroke-width="1"/><path d="M0 29.5 H29.5 V0" fill="none" stroke="#6e6e6e" stroke-width="1"/><path d="M14.5 4 L18 8.7 H16.2 V13.6 H21.5 V11.5 L26 15.25 L21.5 19 V16.9 H16.2 V21.7 H18 L14.5 26 L11 21.7 H12.8 V16.9 H7.5 V19 L3 15.25 L7.5 11.5 V13.6 H12.8 V8.7 H11 Z" fill="#1a5f82"/></svg><svg width="30" height="30" viewBox="0 0 30 30" style="position:absolute;left:122px;top:982px"><rect x="0" y="0" width="30" height="30" fill="#e6e6e6"/><rect x="1.5" y="1.5" width="27" height="27" fill="none" stroke="#f0f0f0" stroke-width="1"/><path d="M0.5 30 V0.5 H29" fill="none" stroke="#ffffff" stroke-width="1"/><path d="M0 29.5 H29.5 V0" fill="none" stroke="#6e6e6e" stroke-width="1"/><defs><radialGradient id="mg" cx="0.4" cy="0.4" r="0.7"><stop offset="0" stop-color="#fbe8f4"/><stop offset="1" stop-color="#e0a0d0"/></radialGradient></defs><rect x="7.5" y="12.5" width="17" height="12" fill="#fefefe" stroke="#f080c8" stroke-width="1.1"/><path d="M17.5 13.2 L26.6 8" stroke="#f0c070" stroke-width="4.4"/><path d="M17.5 13.2 L26.6 8" stroke="#60e8b4" stroke-width="3.4"/><circle cx="11.4" cy="16.4" r="6.6" fill="url(#mg)" fill-opacity="0.8" stroke="#e8a0d8" stroke-width="0.8"/><path d="M10 15.4 H16 M10 17.4 H16 M10 19.5 H16" stroke="#c03880" stroke-width="1.3"/><path d="M3.5 4.8 V6.2 M3.5 9.4 V11.4" stroke="#20e0f0" stroke-width="1.2"/></svg><svg width="30" height="30" viewBox="0 0 30 30" style="position:absolute;left:152px;top:982px"><rect x="0" y="0" width="30" height="30" fill="#f6f6f6"/><rect x="1.5" y="1.5" width="27" height="27" fill="none" stroke="#fafafa" stroke-width="1"/><path d="M0.5 30 V0.5 H29" fill="none" stroke="#ffffff" stroke-width="1"/><path d="M0 29.5 H29.5 V0" fill="none" stroke="#6e6e6e" stroke-width="1"/><defs><linearGradient id="sb" x1="0" y1="0" x2="1" y2="1"><stop offset="0" stop-color="#4888d8"/><stop offset="1" stop-color="#c0e8fc"/></linearGradient></defs><rect x="6.3" y="6.3" width="18.4" height="18.4" rx="1.5" fill="#f8f8f8" stroke="#000" stroke-width="1.5"/><rect x="7" y="8.2" width="17" height="1.6" fill="#909090"/><rect x="9.3" y="9.9" width="13.7" height="11.2" fill="url(#sb)"/><rect x="11.2" y="12" width="9.3" height="7.8" rx="1.2" fill="#ffffff" stroke="#000" stroke-width="1.4"/><rect x="12.2" y="12.9" width="7.3" height="2.2" fill="#a0a0a0"/><rect x="14.8" y="12.9" width="2" height="2.2" fill="#6080d0"/><path d="M15.15 5.2 L18 9 H12.3 Z M15.15 25.3 L18 21.5 H12.3 Z M5.1 15.25 L9 12.4 V18.1 Z M26.7 15.25 L22.4 12.4 V18.1 Z" fill="#38d048" stroke="#189028" stroke-width="0.5"/></svg><svg width="30" height="30" viewBox="0 0 30 30" style="position:absolute;left:182px;top:982px"><rect x="0" y="0" width="30" height="30" fill="#e6e6e6"/><rect x="1.5" y="1.5" width="27" height="27" fill="none" stroke="#f0f0f0" stroke-width="1"/><path d="M0.5 30 V0.5 H29" fill="none" stroke="#ffffff" stroke-width="1"/><path d="M0 29.5 H29.5 V0" fill="none" stroke="#6e6e6e" stroke-width="1"/><defs><linearGradient id="lab" x1="0" y1="0" x2="1" y2="1"><stop offset="0" stop-color="#a8c0d0"/><stop offset="0.5" stop-color="#d8e4ec"/><stop offset="1" stop-color="#a0b4c4"/></linearGradient></defs><path d="M4 3.9 H25.9 L26.9 4.9 V26 L25.9 27 H4 L3 26 V4.9 Z" fill="#0e4870"/><rect x="7" y="5.1" width="15.8" height="8.8" fill="url(#lab)"/><rect x="7" y="5.1" width="15.8" height="1.7" fill="#c87840"/><path d="M11.4 9.4 H20.8 M11.4 11.5 H20.8" stroke="#163c5c" stroke-width="0.8"/><rect x="10" y="17.2" width="10.2" height="6.7" fill="url(#lab)"/><rect x="11.8" y="17.8" width="1.9" height="5.4" fill="#1a2a48"/><circle cx="5.3" cy="7.4" r="0.7" fill="#ffffff"/><circle cx="24.6" cy="7.4" r="0.7" fill="#ffffff"/></svg>
<div style="position:absolute;left:0;top:1014px;width:1920px;height:4px;background:#3d3d3d;border-top:1px solid #1c1c1c;box-sizing:border-box"></div>
<div style="position:absolute;left:0;top:1014px;width:11px;height:4px;background:#1a2633"></div>
</body></html>
